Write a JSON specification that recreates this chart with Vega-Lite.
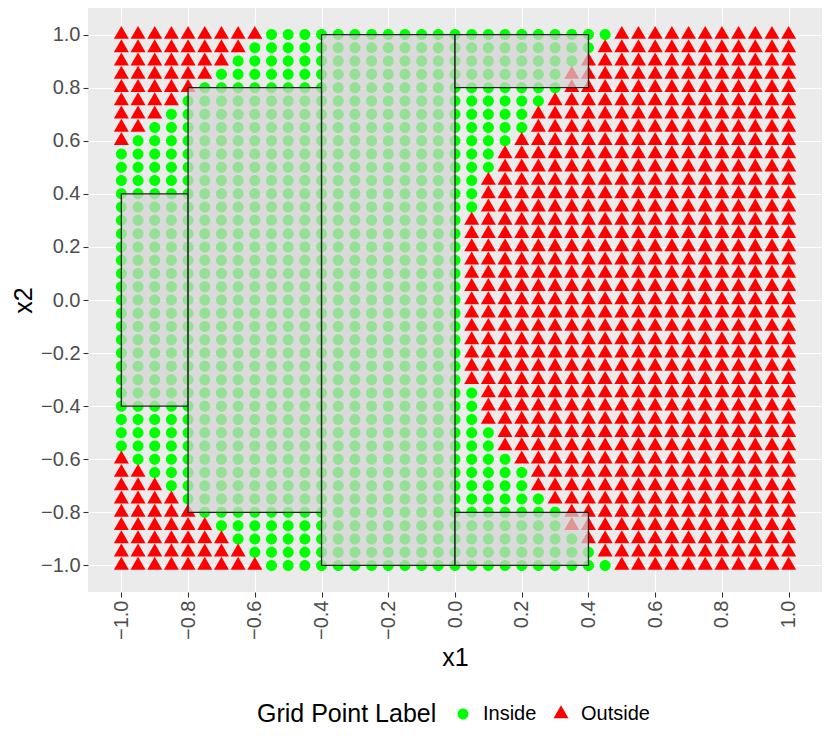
{
"$schema":"https://vega.github.io/schema/vega-lite/v6.json",
"width":734,"height":584,
"autosize":"none",
"padding":{"left":88,"top":8,"right":8,"bottom":154},
"background":"white",
"config":{
 "view":{"fill":"#EBEBEB","stroke":null},
 "font":"Liberation Sans",
 "axis":{"domain":false,"gridColor":"white","tickColor":"#333333","tickWidth":1.1,"tickSize":5,"labelFontSize":20,"labelColor":"#4D4D4D","labelPadding":3,"titleFontSize":25,"titleFontWeight":"normal","titleColor":"black","labelOverlap":false,"labelFlush":false},
 "legend":{"orient":"none","legendX":169,"legendY":696,"direction":"horizontal","titleOrient":"left","titleFontSize":25,"titleFontWeight":"normal","titleColor":"black","titleBaseline":"middle","titleAnchor":"middle","titlePadding":16,"labelFontSize":20,"labelColor":"black","symbolSize":225,"symbolStrokeWidth":0,"labelOffset":10,"columnPadding":14}
},
"layer":[
{
"data":{"values":[
{"x1":-1,"x2":1,"lab":"Outside"},{"x1":-0.95,"x2":1,"lab":"Outside"},{"x1":-0.9,"x2":1,"lab":"Outside"},{"x1":-0.85,"x2":1,"lab":"Outside"},{"x1":-0.8,"x2":1,"lab":"Outside"},{"x1":-0.75,"x2":1,"lab":"Outside"},{"x1":-0.7,"x2":1,"lab":"Outside"},{"x1":-0.65,"x2":1,"lab":"Outside"},{"x1":-0.6,"x2":1,"lab":"Outside"},{"x1":-0.55,"x2":1,"lab":"Inside"},{"x1":-0.5,"x2":1,"lab":"Inside"},{"x1":-0.45,"x2":1,"lab":"Inside"},{"x1":-0.4,"x2":1,"lab":"Inside"},{"x1":-0.35,"x2":1,"lab":"Inside"},{"x1":-0.3,"x2":1,"lab":"Inside"},{"x1":-0.25,"x2":1,"lab":"Inside"},{"x1":-0.2,"x2":1,"lab":"Inside"},{"x1":-0.15,"x2":1,"lab":"Inside"},{"x1":-0.1,"x2":1,"lab":"Inside"},{"x1":-0.05,"x2":1,"lab":"Inside"},{"x1":0,"x2":1,"lab":"Inside"},{"x1":0.05,"x2":1,"lab":"Inside"},{"x1":0.1,"x2":1,"lab":"Inside"},{"x1":0.15,"x2":1,"lab":"Inside"},{"x1":0.2,"x2":1,"lab":"Inside"},{"x1":0.25,"x2":1,"lab":"Inside"},{"x1":0.3,"x2":1,"lab":"Inside"},{"x1":0.35,"x2":1,"lab":"Inside"},{"x1":0.4,"x2":1,"lab":"Inside"},{"x1":0.45,"x2":1,"lab":"Inside"},{"x1":0.5,"x2":1,"lab":"Outside"},{"x1":0.55,"x2":1,"lab":"Outside"},{"x1":0.6,"x2":1,"lab":"Outside"},{"x1":0.65,"x2":1,"lab":"Outside"},{"x1":0.7,"x2":1,"lab":"Outside"},{"x1":0.75,"x2":1,"lab":"Outside"},{"x1":0.8,"x2":1,"lab":"Outside"},{"x1":0.85,"x2":1,"lab":"Outside"},{"x1":0.9,"x2":1,"lab":"Outside"},{"x1":0.95,"x2":1,"lab":"Outside"},{"x1":1,"x2":1,"lab":"Outside"},
{"x1":-1,"x2":0.95,"lab":"Outside"},{"x1":-0.95,"x2":0.95,"lab":"Outside"},{"x1":-0.9,"x2":0.95,"lab":"Outside"},{"x1":-0.85,"x2":0.95,"lab":"Outside"},{"x1":-0.8,"x2":0.95,"lab":"Outside"},{"x1":-0.75,"x2":0.95,"lab":"Outside"},{"x1":-0.7,"x2":0.95,"lab":"Outside"},{"x1":-0.65,"x2":0.95,"lab":"Outside"},{"x1":-0.6,"x2":0.95,"lab":"Inside"},{"x1":-0.55,"x2":0.95,"lab":"Inside"},{"x1":-0.5,"x2":0.95,"lab":"Inside"},{"x1":-0.45,"x2":0.95,"lab":"Inside"},{"x1":-0.4,"x2":0.95,"lab":"Inside"},{"x1":-0.35,"x2":0.95,"lab":"Inside"},{"x1":-0.3,"x2":0.95,"lab":"Inside"},{"x1":-0.25,"x2":0.95,"lab":"Inside"},{"x1":-0.2,"x2":0.95,"lab":"Inside"},{"x1":-0.15,"x2":0.95,"lab":"Inside"},{"x1":-0.1,"x2":0.95,"lab":"Inside"},{"x1":-0.05,"x2":0.95,"lab":"Inside"},{"x1":0,"x2":0.95,"lab":"Inside"},{"x1":0.05,"x2":0.95,"lab":"Inside"},{"x1":0.1,"x2":0.95,"lab":"Inside"},{"x1":0.15,"x2":0.95,"lab":"Inside"},{"x1":0.2,"x2":0.95,"lab":"Inside"},{"x1":0.25,"x2":0.95,"lab":"Inside"},{"x1":0.3,"x2":0.95,"lab":"Inside"},{"x1":0.35,"x2":0.95,"lab":"Inside"},{"x1":0.4,"x2":0.95,"lab":"Inside"},{"x1":0.45,"x2":0.95,"lab":"Outside"},{"x1":0.5,"x2":0.95,"lab":"Outside"},{"x1":0.55,"x2":0.95,"lab":"Outside"},{"x1":0.6,"x2":0.95,"lab":"Outside"},{"x1":0.65,"x2":0.95,"lab":"Outside"},{"x1":0.7,"x2":0.95,"lab":"Outside"},{"x1":0.75,"x2":0.95,"lab":"Outside"},{"x1":0.8,"x2":0.95,"lab":"Outside"},{"x1":0.85,"x2":0.95,"lab":"Outside"},{"x1":0.9,"x2":0.95,"lab":"Outside"},{"x1":0.95,"x2":0.95,"lab":"Outside"},{"x1":1,"x2":0.95,"lab":"Outside"},
{"x1":-1,"x2":0.9,"lab":"Outside"},{"x1":-0.95,"x2":0.9,"lab":"Outside"},{"x1":-0.9,"x2":0.9,"lab":"Outside"},{"x1":-0.85,"x2":0.9,"lab":"Outside"},{"x1":-0.8,"x2":0.9,"lab":"Outside"},{"x1":-0.75,"x2":0.9,"lab":"Outside"},{"x1":-0.7,"x2":0.9,"lab":"Outside"},{"x1":-0.65,"x2":0.9,"lab":"Inside"},{"x1":-0.6,"x2":0.9,"lab":"Inside"},{"x1":-0.55,"x2":0.9,"lab":"Inside"},{"x1":-0.5,"x2":0.9,"lab":"Inside"},{"x1":-0.45,"x2":0.9,"lab":"Inside"},{"x1":-0.4,"x2":0.9,"lab":"Inside"},{"x1":-0.35,"x2":0.9,"lab":"Inside"},{"x1":-0.3,"x2":0.9,"lab":"Inside"},{"x1":-0.25,"x2":0.9,"lab":"Inside"},{"x1":-0.2,"x2":0.9,"lab":"Inside"},{"x1":-0.15,"x2":0.9,"lab":"Inside"},{"x1":-0.1,"x2":0.9,"lab":"Inside"},{"x1":-0.05,"x2":0.9,"lab":"Inside"},{"x1":0,"x2":0.9,"lab":"Inside"},{"x1":0.05,"x2":0.9,"lab":"Inside"},{"x1":0.1,"x2":0.9,"lab":"Inside"},{"x1":0.15,"x2":0.9,"lab":"Inside"},{"x1":0.2,"x2":0.9,"lab":"Inside"},{"x1":0.25,"x2":0.9,"lab":"Inside"},{"x1":0.3,"x2":0.9,"lab":"Inside"},{"x1":0.35,"x2":0.9,"lab":"Inside"},{"x1":0.4,"x2":0.9,"lab":"Outside"},{"x1":0.45,"x2":0.9,"lab":"Outside"},{"x1":0.5,"x2":0.9,"lab":"Outside"},{"x1":0.55,"x2":0.9,"lab":"Outside"},{"x1":0.6,"x2":0.9,"lab":"Outside"},{"x1":0.65,"x2":0.9,"lab":"Outside"},{"x1":0.7,"x2":0.9,"lab":"Outside"},{"x1":0.75,"x2":0.9,"lab":"Outside"},{"x1":0.8,"x2":0.9,"lab":"Outside"},{"x1":0.85,"x2":0.9,"lab":"Outside"},{"x1":0.9,"x2":0.9,"lab":"Outside"},{"x1":0.95,"x2":0.9,"lab":"Outside"},{"x1":1,"x2":0.9,"lab":"Outside"},
{"x1":-1,"x2":0.85,"lab":"Outside"},{"x1":-0.95,"x2":0.85,"lab":"Outside"},{"x1":-0.9,"x2":0.85,"lab":"Outside"},{"x1":-0.85,"x2":0.85,"lab":"Outside"},{"x1":-0.8,"x2":0.85,"lab":"Outside"},{"x1":-0.75,"x2":0.85,"lab":"Outside"},{"x1":-0.7,"x2":0.85,"lab":"Inside"},{"x1":-0.65,"x2":0.85,"lab":"Inside"},{"x1":-0.6,"x2":0.85,"lab":"Inside"},{"x1":-0.55,"x2":0.85,"lab":"Inside"},{"x1":-0.5,"x2":0.85,"lab":"Inside"},{"x1":-0.45,"x2":0.85,"lab":"Inside"},{"x1":-0.4,"x2":0.85,"lab":"Inside"},{"x1":-0.35,"x2":0.85,"lab":"Inside"},{"x1":-0.3,"x2":0.85,"lab":"Inside"},{"x1":-0.25,"x2":0.85,"lab":"Inside"},{"x1":-0.2,"x2":0.85,"lab":"Inside"},{"x1":-0.15,"x2":0.85,"lab":"Inside"},{"x1":-0.1,"x2":0.85,"lab":"Inside"},{"x1":-0.05,"x2":0.85,"lab":"Inside"},{"x1":0,"x2":0.85,"lab":"Inside"},{"x1":0.05,"x2":0.85,"lab":"Inside"},{"x1":0.1,"x2":0.85,"lab":"Inside"},{"x1":0.15,"x2":0.85,"lab":"Inside"},{"x1":0.2,"x2":0.85,"lab":"Inside"},{"x1":0.25,"x2":0.85,"lab":"Inside"},{"x1":0.3,"x2":0.85,"lab":"Inside"},{"x1":0.35,"x2":0.85,"lab":"Outside"},{"x1":0.4,"x2":0.85,"lab":"Outside"},{"x1":0.45,"x2":0.85,"lab":"Outside"},{"x1":0.5,"x2":0.85,"lab":"Outside"},{"x1":0.55,"x2":0.85,"lab":"Outside"},{"x1":0.6,"x2":0.85,"lab":"Outside"},{"x1":0.65,"x2":0.85,"lab":"Outside"},{"x1":0.7,"x2":0.85,"lab":"Outside"},{"x1":0.75,"x2":0.85,"lab":"Outside"},{"x1":0.8,"x2":0.85,"lab":"Outside"},{"x1":0.85,"x2":0.85,"lab":"Outside"},{"x1":0.9,"x2":0.85,"lab":"Outside"},{"x1":0.95,"x2":0.85,"lab":"Outside"},{"x1":1,"x2":0.85,"lab":"Outside"},
{"x1":-1,"x2":0.8,"lab":"Outside"},{"x1":-0.95,"x2":0.8,"lab":"Outside"},{"x1":-0.9,"x2":0.8,"lab":"Outside"},{"x1":-0.85,"x2":0.8,"lab":"Outside"},{"x1":-0.8,"x2":0.8,"lab":"Outside"},{"x1":-0.75,"x2":0.8,"lab":"Inside"},{"x1":-0.7,"x2":0.8,"lab":"Inside"},{"x1":-0.65,"x2":0.8,"lab":"Inside"},{"x1":-0.6,"x2":0.8,"lab":"Inside"},{"x1":-0.55,"x2":0.8,"lab":"Inside"},{"x1":-0.5,"x2":0.8,"lab":"Inside"},{"x1":-0.45,"x2":0.8,"lab":"Inside"},{"x1":-0.4,"x2":0.8,"lab":"Inside"},{"x1":-0.35,"x2":0.8,"lab":"Inside"},{"x1":-0.3,"x2":0.8,"lab":"Inside"},{"x1":-0.25,"x2":0.8,"lab":"Inside"},{"x1":-0.2,"x2":0.8,"lab":"Inside"},{"x1":-0.15,"x2":0.8,"lab":"Inside"},{"x1":-0.1,"x2":0.8,"lab":"Inside"},{"x1":-0.05,"x2":0.8,"lab":"Inside"},{"x1":0,"x2":0.8,"lab":"Inside"},{"x1":0.05,"x2":0.8,"lab":"Inside"},{"x1":0.1,"x2":0.8,"lab":"Inside"},{"x1":0.15,"x2":0.8,"lab":"Inside"},{"x1":0.2,"x2":0.8,"lab":"Inside"},{"x1":0.25,"x2":0.8,"lab":"Inside"},{"x1":0.3,"x2":0.8,"lab":"Inside"},{"x1":0.35,"x2":0.8,"lab":"Outside"},{"x1":0.4,"x2":0.8,"lab":"Outside"},{"x1":0.45,"x2":0.8,"lab":"Outside"},{"x1":0.5,"x2":0.8,"lab":"Outside"},{"x1":0.55,"x2":0.8,"lab":"Outside"},{"x1":0.6,"x2":0.8,"lab":"Outside"},{"x1":0.65,"x2":0.8,"lab":"Outside"},{"x1":0.7,"x2":0.8,"lab":"Outside"},{"x1":0.75,"x2":0.8,"lab":"Outside"},{"x1":0.8,"x2":0.8,"lab":"Outside"},{"x1":0.85,"x2":0.8,"lab":"Outside"},{"x1":0.9,"x2":0.8,"lab":"Outside"},{"x1":0.95,"x2":0.8,"lab":"Outside"},{"x1":1,"x2":0.8,"lab":"Outside"},
{"x1":-1,"x2":0.75,"lab":"Outside"},{"x1":-0.95,"x2":0.75,"lab":"Outside"},{"x1":-0.9,"x2":0.75,"lab":"Outside"},{"x1":-0.85,"x2":0.75,"lab":"Outside"},{"x1":-0.8,"x2":0.75,"lab":"Inside"},{"x1":-0.75,"x2":0.75,"lab":"Inside"},{"x1":-0.7,"x2":0.75,"lab":"Inside"},{"x1":-0.65,"x2":0.75,"lab":"Inside"},{"x1":-0.6,"x2":0.75,"lab":"Inside"},{"x1":-0.55,"x2":0.75,"lab":"Inside"},{"x1":-0.5,"x2":0.75,"lab":"Inside"},{"x1":-0.45,"x2":0.75,"lab":"Inside"},{"x1":-0.4,"x2":0.75,"lab":"Inside"},{"x1":-0.35,"x2":0.75,"lab":"Inside"},{"x1":-0.3,"x2":0.75,"lab":"Inside"},{"x1":-0.25,"x2":0.75,"lab":"Inside"},{"x1":-0.2,"x2":0.75,"lab":"Inside"},{"x1":-0.15,"x2":0.75,"lab":"Inside"},{"x1":-0.1,"x2":0.75,"lab":"Inside"},{"x1":-0.05,"x2":0.75,"lab":"Inside"},{"x1":0,"x2":0.75,"lab":"Inside"},{"x1":0.05,"x2":0.75,"lab":"Inside"},{"x1":0.1,"x2":0.75,"lab":"Inside"},{"x1":0.15,"x2":0.75,"lab":"Inside"},{"x1":0.2,"x2":0.75,"lab":"Inside"},{"x1":0.25,"x2":0.75,"lab":"Inside"},{"x1":0.3,"x2":0.75,"lab":"Outside"},{"x1":0.35,"x2":0.75,"lab":"Outside"},{"x1":0.4,"x2":0.75,"lab":"Outside"},{"x1":0.45,"x2":0.75,"lab":"Outside"},{"x1":0.5,"x2":0.75,"lab":"Outside"},{"x1":0.55,"x2":0.75,"lab":"Outside"},{"x1":0.6,"x2":0.75,"lab":"Outside"},{"x1":0.65,"x2":0.75,"lab":"Outside"},{"x1":0.7,"x2":0.75,"lab":"Outside"},{"x1":0.75,"x2":0.75,"lab":"Outside"},{"x1":0.8,"x2":0.75,"lab":"Outside"},{"x1":0.85,"x2":0.75,"lab":"Outside"},{"x1":0.9,"x2":0.75,"lab":"Outside"},{"x1":0.95,"x2":0.75,"lab":"Outside"},{"x1":1,"x2":0.75,"lab":"Outside"},
{"x1":-1,"x2":0.7,"lab":"Outside"},{"x1":-0.95,"x2":0.7,"lab":"Outside"},{"x1":-0.9,"x2":0.7,"lab":"Outside"},{"x1":-0.85,"x2":0.7,"lab":"Inside"},{"x1":-0.8,"x2":0.7,"lab":"Inside"},{"x1":-0.75,"x2":0.7,"lab":"Inside"},{"x1":-0.7,"x2":0.7,"lab":"Inside"},{"x1":-0.65,"x2":0.7,"lab":"Inside"},{"x1":-0.6,"x2":0.7,"lab":"Inside"},{"x1":-0.55,"x2":0.7,"lab":"Inside"},{"x1":-0.5,"x2":0.7,"lab":"Inside"},{"x1":-0.45,"x2":0.7,"lab":"Inside"},{"x1":-0.4,"x2":0.7,"lab":"Inside"},{"x1":-0.35,"x2":0.7,"lab":"Inside"},{"x1":-0.3,"x2":0.7,"lab":"Inside"},{"x1":-0.25,"x2":0.7,"lab":"Inside"},{"x1":-0.2,"x2":0.7,"lab":"Inside"},{"x1":-0.15,"x2":0.7,"lab":"Inside"},{"x1":-0.1,"x2":0.7,"lab":"Inside"},{"x1":-0.05,"x2":0.7,"lab":"Inside"},{"x1":0,"x2":0.7,"lab":"Inside"},{"x1":0.05,"x2":0.7,"lab":"Inside"},{"x1":0.1,"x2":0.7,"lab":"Inside"},{"x1":0.15,"x2":0.7,"lab":"Inside"},{"x1":0.2,"x2":0.7,"lab":"Inside"},{"x1":0.25,"x2":0.7,"lab":"Outside"},{"x1":0.3,"x2":0.7,"lab":"Outside"},{"x1":0.35,"x2":0.7,"lab":"Outside"},{"x1":0.4,"x2":0.7,"lab":"Outside"},{"x1":0.45,"x2":0.7,"lab":"Outside"},{"x1":0.5,"x2":0.7,"lab":"Outside"},{"x1":0.55,"x2":0.7,"lab":"Outside"},{"x1":0.6,"x2":0.7,"lab":"Outside"},{"x1":0.65,"x2":0.7,"lab":"Outside"},{"x1":0.7,"x2":0.7,"lab":"Outside"},{"x1":0.75,"x2":0.7,"lab":"Outside"},{"x1":0.8,"x2":0.7,"lab":"Outside"},{"x1":0.85,"x2":0.7,"lab":"Outside"},{"x1":0.9,"x2":0.7,"lab":"Outside"},{"x1":0.95,"x2":0.7,"lab":"Outside"},{"x1":1,"x2":0.7,"lab":"Outside"},
{"x1":-1,"x2":0.65,"lab":"Outside"},{"x1":-0.95,"x2":0.65,"lab":"Outside"},{"x1":-0.9,"x2":0.65,"lab":"Inside"},{"x1":-0.85,"x2":0.65,"lab":"Inside"},{"x1":-0.8,"x2":0.65,"lab":"Inside"},{"x1":-0.75,"x2":0.65,"lab":"Inside"},{"x1":-0.7,"x2":0.65,"lab":"Inside"},{"x1":-0.65,"x2":0.65,"lab":"Inside"},{"x1":-0.6,"x2":0.65,"lab":"Inside"},{"x1":-0.55,"x2":0.65,"lab":"Inside"},{"x1":-0.5,"x2":0.65,"lab":"Inside"},{"x1":-0.45,"x2":0.65,"lab":"Inside"},{"x1":-0.4,"x2":0.65,"lab":"Inside"},{"x1":-0.35,"x2":0.65,"lab":"Inside"},{"x1":-0.3,"x2":0.65,"lab":"Inside"},{"x1":-0.25,"x2":0.65,"lab":"Inside"},{"x1":-0.2,"x2":0.65,"lab":"Inside"},{"x1":-0.15,"x2":0.65,"lab":"Inside"},{"x1":-0.1,"x2":0.65,"lab":"Inside"},{"x1":-0.05,"x2":0.65,"lab":"Inside"},{"x1":0,"x2":0.65,"lab":"Inside"},{"x1":0.05,"x2":0.65,"lab":"Inside"},{"x1":0.1,"x2":0.65,"lab":"Inside"},{"x1":0.15,"x2":0.65,"lab":"Inside"},{"x1":0.2,"x2":0.65,"lab":"Inside"},{"x1":0.25,"x2":0.65,"lab":"Outside"},{"x1":0.3,"x2":0.65,"lab":"Outside"},{"x1":0.35,"x2":0.65,"lab":"Outside"},{"x1":0.4,"x2":0.65,"lab":"Outside"},{"x1":0.45,"x2":0.65,"lab":"Outside"},{"x1":0.5,"x2":0.65,"lab":"Outside"},{"x1":0.55,"x2":0.65,"lab":"Outside"},{"x1":0.6,"x2":0.65,"lab":"Outside"},{"x1":0.65,"x2":0.65,"lab":"Outside"},{"x1":0.7,"x2":0.65,"lab":"Outside"},{"x1":0.75,"x2":0.65,"lab":"Outside"},{"x1":0.8,"x2":0.65,"lab":"Outside"},{"x1":0.85,"x2":0.65,"lab":"Outside"},{"x1":0.9,"x2":0.65,"lab":"Outside"},{"x1":0.95,"x2":0.65,"lab":"Outside"},{"x1":1,"x2":0.65,"lab":"Outside"},
{"x1":-1,"x2":0.6,"lab":"Outside"},{"x1":-0.95,"x2":0.6,"lab":"Inside"},{"x1":-0.9,"x2":0.6,"lab":"Inside"},{"x1":-0.85,"x2":0.6,"lab":"Inside"},{"x1":-0.8,"x2":0.6,"lab":"Inside"},{"x1":-0.75,"x2":0.6,"lab":"Inside"},{"x1":-0.7,"x2":0.6,"lab":"Inside"},{"x1":-0.65,"x2":0.6,"lab":"Inside"},{"x1":-0.6,"x2":0.6,"lab":"Inside"},{"x1":-0.55,"x2":0.6,"lab":"Inside"},{"x1":-0.5,"x2":0.6,"lab":"Inside"},{"x1":-0.45,"x2":0.6,"lab":"Inside"},{"x1":-0.4,"x2":0.6,"lab":"Inside"},{"x1":-0.35,"x2":0.6,"lab":"Inside"},{"x1":-0.3,"x2":0.6,"lab":"Inside"},{"x1":-0.25,"x2":0.6,"lab":"Inside"},{"x1":-0.2,"x2":0.6,"lab":"Inside"},{"x1":-0.15,"x2":0.6,"lab":"Inside"},{"x1":-0.1,"x2":0.6,"lab":"Inside"},{"x1":-0.05,"x2":0.6,"lab":"Inside"},{"x1":0,"x2":0.6,"lab":"Inside"},{"x1":0.05,"x2":0.6,"lab":"Inside"},{"x1":0.1,"x2":0.6,"lab":"Inside"},{"x1":0.15,"x2":0.6,"lab":"Inside"},{"x1":0.2,"x2":0.6,"lab":"Outside"},{"x1":0.25,"x2":0.6,"lab":"Outside"},{"x1":0.3,"x2":0.6,"lab":"Outside"},{"x1":0.35,"x2":0.6,"lab":"Outside"},{"x1":0.4,"x2":0.6,"lab":"Outside"},{"x1":0.45,"x2":0.6,"lab":"Outside"},{"x1":0.5,"x2":0.6,"lab":"Outside"},{"x1":0.55,"x2":0.6,"lab":"Outside"},{"x1":0.6,"x2":0.6,"lab":"Outside"},{"x1":0.65,"x2":0.6,"lab":"Outside"},{"x1":0.7,"x2":0.6,"lab":"Outside"},{"x1":0.75,"x2":0.6,"lab":"Outside"},{"x1":0.8,"x2":0.6,"lab":"Outside"},{"x1":0.85,"x2":0.6,"lab":"Outside"},{"x1":0.9,"x2":0.6,"lab":"Outside"},{"x1":0.95,"x2":0.6,"lab":"Outside"},{"x1":1,"x2":0.6,"lab":"Outside"},
{"x1":-1,"x2":0.55,"lab":"Inside"},{"x1":-0.95,"x2":0.55,"lab":"Inside"},{"x1":-0.9,"x2":0.55,"lab":"Inside"},{"x1":-0.85,"x2":0.55,"lab":"Inside"},{"x1":-0.8,"x2":0.55,"lab":"Inside"},{"x1":-0.75,"x2":0.55,"lab":"Inside"},{"x1":-0.7,"x2":0.55,"lab":"Inside"},{"x1":-0.65,"x2":0.55,"lab":"Inside"},{"x1":-0.6,"x2":0.55,"lab":"Inside"},{"x1":-0.55,"x2":0.55,"lab":"Inside"},{"x1":-0.5,"x2":0.55,"lab":"Inside"},{"x1":-0.45,"x2":0.55,"lab":"Inside"},{"x1":-0.4,"x2":0.55,"lab":"Inside"},{"x1":-0.35,"x2":0.55,"lab":"Inside"},{"x1":-0.3,"x2":0.55,"lab":"Inside"},{"x1":-0.25,"x2":0.55,"lab":"Inside"},{"x1":-0.2,"x2":0.55,"lab":"Inside"},{"x1":-0.15,"x2":0.55,"lab":"Inside"},{"x1":-0.1,"x2":0.55,"lab":"Inside"},{"x1":-0.05,"x2":0.55,"lab":"Inside"},{"x1":0,"x2":0.55,"lab":"Inside"},{"x1":0.05,"x2":0.55,"lab":"Inside"},{"x1":0.1,"x2":0.55,"lab":"Inside"},{"x1":0.15,"x2":0.55,"lab":"Outside"},{"x1":0.2,"x2":0.55,"lab":"Outside"},{"x1":0.25,"x2":0.55,"lab":"Outside"},{"x1":0.3,"x2":0.55,"lab":"Outside"},{"x1":0.35,"x2":0.55,"lab":"Outside"},{"x1":0.4,"x2":0.55,"lab":"Outside"},{"x1":0.45,"x2":0.55,"lab":"Outside"},{"x1":0.5,"x2":0.55,"lab":"Outside"},{"x1":0.55,"x2":0.55,"lab":"Outside"},{"x1":0.6,"x2":0.55,"lab":"Outside"},{"x1":0.65,"x2":0.55,"lab":"Outside"},{"x1":0.7,"x2":0.55,"lab":"Outside"},{"x1":0.75,"x2":0.55,"lab":"Outside"},{"x1":0.8,"x2":0.55,"lab":"Outside"},{"x1":0.85,"x2":0.55,"lab":"Outside"},{"x1":0.9,"x2":0.55,"lab":"Outside"},{"x1":0.95,"x2":0.55,"lab":"Outside"},{"x1":1,"x2":0.55,"lab":"Outside"},
{"x1":-1,"x2":0.5,"lab":"Inside"},{"x1":-0.95,"x2":0.5,"lab":"Inside"},{"x1":-0.9,"x2":0.5,"lab":"Inside"},{"x1":-0.85,"x2":0.5,"lab":"Inside"},{"x1":-0.8,"x2":0.5,"lab":"Inside"},{"x1":-0.75,"x2":0.5,"lab":"Inside"},{"x1":-0.7,"x2":0.5,"lab":"Inside"},{"x1":-0.65,"x2":0.5,"lab":"Inside"},{"x1":-0.6,"x2":0.5,"lab":"Inside"},{"x1":-0.55,"x2":0.5,"lab":"Inside"},{"x1":-0.5,"x2":0.5,"lab":"Inside"},{"x1":-0.45,"x2":0.5,"lab":"Inside"},{"x1":-0.4,"x2":0.5,"lab":"Inside"},{"x1":-0.35,"x2":0.5,"lab":"Inside"},{"x1":-0.3,"x2":0.5,"lab":"Inside"},{"x1":-0.25,"x2":0.5,"lab":"Inside"},{"x1":-0.2,"x2":0.5,"lab":"Inside"},{"x1":-0.15,"x2":0.5,"lab":"Inside"},{"x1":-0.1,"x2":0.5,"lab":"Inside"},{"x1":-0.05,"x2":0.5,"lab":"Inside"},{"x1":0,"x2":0.5,"lab":"Inside"},{"x1":0.05,"x2":0.5,"lab":"Inside"},{"x1":0.1,"x2":0.5,"lab":"Inside"},{"x1":0.15,"x2":0.5,"lab":"Outside"},{"x1":0.2,"x2":0.5,"lab":"Outside"},{"x1":0.25,"x2":0.5,"lab":"Outside"},{"x1":0.3,"x2":0.5,"lab":"Outside"},{"x1":0.35,"x2":0.5,"lab":"Outside"},{"x1":0.4,"x2":0.5,"lab":"Outside"},{"x1":0.45,"x2":0.5,"lab":"Outside"},{"x1":0.5,"x2":0.5,"lab":"Outside"},{"x1":0.55,"x2":0.5,"lab":"Outside"},{"x1":0.6,"x2":0.5,"lab":"Outside"},{"x1":0.65,"x2":0.5,"lab":"Outside"},{"x1":0.7,"x2":0.5,"lab":"Outside"},{"x1":0.75,"x2":0.5,"lab":"Outside"},{"x1":0.8,"x2":0.5,"lab":"Outside"},{"x1":0.85,"x2":0.5,"lab":"Outside"},{"x1":0.9,"x2":0.5,"lab":"Outside"},{"x1":0.95,"x2":0.5,"lab":"Outside"},{"x1":1,"x2":0.5,"lab":"Outside"},
{"x1":-1,"x2":0.45,"lab":"Inside"},{"x1":-0.95,"x2":0.45,"lab":"Inside"},{"x1":-0.9,"x2":0.45,"lab":"Inside"},{"x1":-0.85,"x2":0.45,"lab":"Inside"},{"x1":-0.8,"x2":0.45,"lab":"Inside"},{"x1":-0.75,"x2":0.45,"lab":"Inside"},{"x1":-0.7,"x2":0.45,"lab":"Inside"},{"x1":-0.65,"x2":0.45,"lab":"Inside"},{"x1":-0.6,"x2":0.45,"lab":"Inside"},{"x1":-0.55,"x2":0.45,"lab":"Inside"},{"x1":-0.5,"x2":0.45,"lab":"Inside"},{"x1":-0.45,"x2":0.45,"lab":"Inside"},{"x1":-0.4,"x2":0.45,"lab":"Inside"},{"x1":-0.35,"x2":0.45,"lab":"Inside"},{"x1":-0.3,"x2":0.45,"lab":"Inside"},{"x1":-0.25,"x2":0.45,"lab":"Inside"},{"x1":-0.2,"x2":0.45,"lab":"Inside"},{"x1":-0.15,"x2":0.45,"lab":"Inside"},{"x1":-0.1,"x2":0.45,"lab":"Inside"},{"x1":-0.05,"x2":0.45,"lab":"Inside"},{"x1":0,"x2":0.45,"lab":"Inside"},{"x1":0.05,"x2":0.45,"lab":"Inside"},{"x1":0.1,"x2":0.45,"lab":"Outside"},{"x1":0.15,"x2":0.45,"lab":"Outside"},{"x1":0.2,"x2":0.45,"lab":"Outside"},{"x1":0.25,"x2":0.45,"lab":"Outside"},{"x1":0.3,"x2":0.45,"lab":"Outside"},{"x1":0.35,"x2":0.45,"lab":"Outside"},{"x1":0.4,"x2":0.45,"lab":"Outside"},{"x1":0.45,"x2":0.45,"lab":"Outside"},{"x1":0.5,"x2":0.45,"lab":"Outside"},{"x1":0.55,"x2":0.45,"lab":"Outside"},{"x1":0.6,"x2":0.45,"lab":"Outside"},{"x1":0.65,"x2":0.45,"lab":"Outside"},{"x1":0.7,"x2":0.45,"lab":"Outside"},{"x1":0.75,"x2":0.45,"lab":"Outside"},{"x1":0.8,"x2":0.45,"lab":"Outside"},{"x1":0.85,"x2":0.45,"lab":"Outside"},{"x1":0.9,"x2":0.45,"lab":"Outside"},{"x1":0.95,"x2":0.45,"lab":"Outside"},{"x1":1,"x2":0.45,"lab":"Outside"},
{"x1":-1,"x2":0.4,"lab":"Inside"},{"x1":-0.95,"x2":0.4,"lab":"Inside"},{"x1":-0.9,"x2":0.4,"lab":"Inside"},{"x1":-0.85,"x2":0.4,"lab":"Inside"},{"x1":-0.8,"x2":0.4,"lab":"Inside"},{"x1":-0.75,"x2":0.4,"lab":"Inside"},{"x1":-0.7,"x2":0.4,"lab":"Inside"},{"x1":-0.65,"x2":0.4,"lab":"Inside"},{"x1":-0.6,"x2":0.4,"lab":"Inside"},{"x1":-0.55,"x2":0.4,"lab":"Inside"},{"x1":-0.5,"x2":0.4,"lab":"Inside"},{"x1":-0.45,"x2":0.4,"lab":"Inside"},{"x1":-0.4,"x2":0.4,"lab":"Inside"},{"x1":-0.35,"x2":0.4,"lab":"Inside"},{"x1":-0.3,"x2":0.4,"lab":"Inside"},{"x1":-0.25,"x2":0.4,"lab":"Inside"},{"x1":-0.2,"x2":0.4,"lab":"Inside"},{"x1":-0.15,"x2":0.4,"lab":"Inside"},{"x1":-0.1,"x2":0.4,"lab":"Inside"},{"x1":-0.05,"x2":0.4,"lab":"Inside"},{"x1":0,"x2":0.4,"lab":"Inside"},{"x1":0.05,"x2":0.4,"lab":"Inside"},{"x1":0.1,"x2":0.4,"lab":"Outside"},{"x1":0.15,"x2":0.4,"lab":"Outside"},{"x1":0.2,"x2":0.4,"lab":"Outside"},{"x1":0.25,"x2":0.4,"lab":"Outside"},{"x1":0.3,"x2":0.4,"lab":"Outside"},{"x1":0.35,"x2":0.4,"lab":"Outside"},{"x1":0.4,"x2":0.4,"lab":"Outside"},{"x1":0.45,"x2":0.4,"lab":"Outside"},{"x1":0.5,"x2":0.4,"lab":"Outside"},{"x1":0.55,"x2":0.4,"lab":"Outside"},{"x1":0.6,"x2":0.4,"lab":"Outside"},{"x1":0.65,"x2":0.4,"lab":"Outside"},{"x1":0.7,"x2":0.4,"lab":"Outside"},{"x1":0.75,"x2":0.4,"lab":"Outside"},{"x1":0.8,"x2":0.4,"lab":"Outside"},{"x1":0.85,"x2":0.4,"lab":"Outside"},{"x1":0.9,"x2":0.4,"lab":"Outside"},{"x1":0.95,"x2":0.4,"lab":"Outside"},{"x1":1,"x2":0.4,"lab":"Outside"},
{"x1":-1,"x2":0.35,"lab":"Inside"},{"x1":-0.95,"x2":0.35,"lab":"Inside"},{"x1":-0.9,"x2":0.35,"lab":"Inside"},{"x1":-0.85,"x2":0.35,"lab":"Inside"},{"x1":-0.8,"x2":0.35,"lab":"Inside"},{"x1":-0.75,"x2":0.35,"lab":"Inside"},{"x1":-0.7,"x2":0.35,"lab":"Inside"},{"x1":-0.65,"x2":0.35,"lab":"Inside"},{"x1":-0.6,"x2":0.35,"lab":"Inside"},{"x1":-0.55,"x2":0.35,"lab":"Inside"},{"x1":-0.5,"x2":0.35,"lab":"Inside"},{"x1":-0.45,"x2":0.35,"lab":"Inside"},{"x1":-0.4,"x2":0.35,"lab":"Inside"},{"x1":-0.35,"x2":0.35,"lab":"Inside"},{"x1":-0.3,"x2":0.35,"lab":"Inside"},{"x1":-0.25,"x2":0.35,"lab":"Inside"},{"x1":-0.2,"x2":0.35,"lab":"Inside"},{"x1":-0.15,"x2":0.35,"lab":"Inside"},{"x1":-0.1,"x2":0.35,"lab":"Inside"},{"x1":-0.05,"x2":0.35,"lab":"Inside"},{"x1":0,"x2":0.35,"lab":"Inside"},{"x1":0.05,"x2":0.35,"lab":"Inside"},{"x1":0.1,"x2":0.35,"lab":"Outside"},{"x1":0.15,"x2":0.35,"lab":"Outside"},{"x1":0.2,"x2":0.35,"lab":"Outside"},{"x1":0.25,"x2":0.35,"lab":"Outside"},{"x1":0.3,"x2":0.35,"lab":"Outside"},{"x1":0.35,"x2":0.35,"lab":"Outside"},{"x1":0.4,"x2":0.35,"lab":"Outside"},{"x1":0.45,"x2":0.35,"lab":"Outside"},{"x1":0.5,"x2":0.35,"lab":"Outside"},{"x1":0.55,"x2":0.35,"lab":"Outside"},{"x1":0.6,"x2":0.35,"lab":"Outside"},{"x1":0.65,"x2":0.35,"lab":"Outside"},{"x1":0.7,"x2":0.35,"lab":"Outside"},{"x1":0.75,"x2":0.35,"lab":"Outside"},{"x1":0.8,"x2":0.35,"lab":"Outside"},{"x1":0.85,"x2":0.35,"lab":"Outside"},{"x1":0.9,"x2":0.35,"lab":"Outside"},{"x1":0.95,"x2":0.35,"lab":"Outside"},{"x1":1,"x2":0.35,"lab":"Outside"},
{"x1":-1,"x2":0.3,"lab":"Inside"},{"x1":-0.95,"x2":0.3,"lab":"Inside"},{"x1":-0.9,"x2":0.3,"lab":"Inside"},{"x1":-0.85,"x2":0.3,"lab":"Inside"},{"x1":-0.8,"x2":0.3,"lab":"Inside"},{"x1":-0.75,"x2":0.3,"lab":"Inside"},{"x1":-0.7,"x2":0.3,"lab":"Inside"},{"x1":-0.65,"x2":0.3,"lab":"Inside"},{"x1":-0.6,"x2":0.3,"lab":"Inside"},{"x1":-0.55,"x2":0.3,"lab":"Inside"},{"x1":-0.5,"x2":0.3,"lab":"Inside"},{"x1":-0.45,"x2":0.3,"lab":"Inside"},{"x1":-0.4,"x2":0.3,"lab":"Inside"},{"x1":-0.35,"x2":0.3,"lab":"Inside"},{"x1":-0.3,"x2":0.3,"lab":"Inside"},{"x1":-0.25,"x2":0.3,"lab":"Inside"},{"x1":-0.2,"x2":0.3,"lab":"Inside"},{"x1":-0.15,"x2":0.3,"lab":"Inside"},{"x1":-0.1,"x2":0.3,"lab":"Inside"},{"x1":-0.05,"x2":0.3,"lab":"Inside"},{"x1":0,"x2":0.3,"lab":"Inside"},{"x1":0.05,"x2":0.3,"lab":"Outside"},{"x1":0.1,"x2":0.3,"lab":"Outside"},{"x1":0.15,"x2":0.3,"lab":"Outside"},{"x1":0.2,"x2":0.3,"lab":"Outside"},{"x1":0.25,"x2":0.3,"lab":"Outside"},{"x1":0.3,"x2":0.3,"lab":"Outside"},{"x1":0.35,"x2":0.3,"lab":"Outside"},{"x1":0.4,"x2":0.3,"lab":"Outside"},{"x1":0.45,"x2":0.3,"lab":"Outside"},{"x1":0.5,"x2":0.3,"lab":"Outside"},{"x1":0.55,"x2":0.3,"lab":"Outside"},{"x1":0.6,"x2":0.3,"lab":"Outside"},{"x1":0.65,"x2":0.3,"lab":"Outside"},{"x1":0.7,"x2":0.3,"lab":"Outside"},{"x1":0.75,"x2":0.3,"lab":"Outside"},{"x1":0.8,"x2":0.3,"lab":"Outside"},{"x1":0.85,"x2":0.3,"lab":"Outside"},{"x1":0.9,"x2":0.3,"lab":"Outside"},{"x1":0.95,"x2":0.3,"lab":"Outside"},{"x1":1,"x2":0.3,"lab":"Outside"},
{"x1":-1,"x2":0.25,"lab":"Inside"},{"x1":-0.95,"x2":0.25,"lab":"Inside"},{"x1":-0.9,"x2":0.25,"lab":"Inside"},{"x1":-0.85,"x2":0.25,"lab":"Inside"},{"x1":-0.8,"x2":0.25,"lab":"Inside"},{"x1":-0.75,"x2":0.25,"lab":"Inside"},{"x1":-0.7,"x2":0.25,"lab":"Inside"},{"x1":-0.65,"x2":0.25,"lab":"Inside"},{"x1":-0.6,"x2":0.25,"lab":"Inside"},{"x1":-0.55,"x2":0.25,"lab":"Inside"},{"x1":-0.5,"x2":0.25,"lab":"Inside"},{"x1":-0.45,"x2":0.25,"lab":"Inside"},{"x1":-0.4,"x2":0.25,"lab":"Inside"},{"x1":-0.35,"x2":0.25,"lab":"Inside"},{"x1":-0.3,"x2":0.25,"lab":"Inside"},{"x1":-0.25,"x2":0.25,"lab":"Inside"},{"x1":-0.2,"x2":0.25,"lab":"Inside"},{"x1":-0.15,"x2":0.25,"lab":"Inside"},{"x1":-0.1,"x2":0.25,"lab":"Inside"},{"x1":-0.05,"x2":0.25,"lab":"Inside"},{"x1":0,"x2":0.25,"lab":"Inside"},{"x1":0.05,"x2":0.25,"lab":"Outside"},{"x1":0.1,"x2":0.25,"lab":"Outside"},{"x1":0.15,"x2":0.25,"lab":"Outside"},{"x1":0.2,"x2":0.25,"lab":"Outside"},{"x1":0.25,"x2":0.25,"lab":"Outside"},{"x1":0.3,"x2":0.25,"lab":"Outside"},{"x1":0.35,"x2":0.25,"lab":"Outside"},{"x1":0.4,"x2":0.25,"lab":"Outside"},{"x1":0.45,"x2":0.25,"lab":"Outside"},{"x1":0.5,"x2":0.25,"lab":"Outside"},{"x1":0.55,"x2":0.25,"lab":"Outside"},{"x1":0.6,"x2":0.25,"lab":"Outside"},{"x1":0.65,"x2":0.25,"lab":"Outside"},{"x1":0.7,"x2":0.25,"lab":"Outside"},{"x1":0.75,"x2":0.25,"lab":"Outside"},{"x1":0.8,"x2":0.25,"lab":"Outside"},{"x1":0.85,"x2":0.25,"lab":"Outside"},{"x1":0.9,"x2":0.25,"lab":"Outside"},{"x1":0.95,"x2":0.25,"lab":"Outside"},{"x1":1,"x2":0.25,"lab":"Outside"},
{"x1":-1,"x2":0.2,"lab":"Inside"},{"x1":-0.95,"x2":0.2,"lab":"Inside"},{"x1":-0.9,"x2":0.2,"lab":"Inside"},{"x1":-0.85,"x2":0.2,"lab":"Inside"},{"x1":-0.8,"x2":0.2,"lab":"Inside"},{"x1":-0.75,"x2":0.2,"lab":"Inside"},{"x1":-0.7,"x2":0.2,"lab":"Inside"},{"x1":-0.65,"x2":0.2,"lab":"Inside"},{"x1":-0.6,"x2":0.2,"lab":"Inside"},{"x1":-0.55,"x2":0.2,"lab":"Inside"},{"x1":-0.5,"x2":0.2,"lab":"Inside"},{"x1":-0.45,"x2":0.2,"lab":"Inside"},{"x1":-0.4,"x2":0.2,"lab":"Inside"},{"x1":-0.35,"x2":0.2,"lab":"Inside"},{"x1":-0.3,"x2":0.2,"lab":"Inside"},{"x1":-0.25,"x2":0.2,"lab":"Inside"},{"x1":-0.2,"x2":0.2,"lab":"Inside"},{"x1":-0.15,"x2":0.2,"lab":"Inside"},{"x1":-0.1,"x2":0.2,"lab":"Inside"},{"x1":-0.05,"x2":0.2,"lab":"Inside"},{"x1":0,"x2":0.2,"lab":"Inside"},{"x1":0.05,"x2":0.2,"lab":"Outside"},{"x1":0.1,"x2":0.2,"lab":"Outside"},{"x1":0.15,"x2":0.2,"lab":"Outside"},{"x1":0.2,"x2":0.2,"lab":"Outside"},{"x1":0.25,"x2":0.2,"lab":"Outside"},{"x1":0.3,"x2":0.2,"lab":"Outside"},{"x1":0.35,"x2":0.2,"lab":"Outside"},{"x1":0.4,"x2":0.2,"lab":"Outside"},{"x1":0.45,"x2":0.2,"lab":"Outside"},{"x1":0.5,"x2":0.2,"lab":"Outside"},{"x1":0.55,"x2":0.2,"lab":"Outside"},{"x1":0.6,"x2":0.2,"lab":"Outside"},{"x1":0.65,"x2":0.2,"lab":"Outside"},{"x1":0.7,"x2":0.2,"lab":"Outside"},{"x1":0.75,"x2":0.2,"lab":"Outside"},{"x1":0.8,"x2":0.2,"lab":"Outside"},{"x1":0.85,"x2":0.2,"lab":"Outside"},{"x1":0.9,"x2":0.2,"lab":"Outside"},{"x1":0.95,"x2":0.2,"lab":"Outside"},{"x1":1,"x2":0.2,"lab":"Outside"},
{"x1":-1,"x2":0.15,"lab":"Inside"},{"x1":-0.95,"x2":0.15,"lab":"Inside"},{"x1":-0.9,"x2":0.15,"lab":"Inside"},{"x1":-0.85,"x2":0.15,"lab":"Inside"},{"x1":-0.8,"x2":0.15,"lab":"Inside"},{"x1":-0.75,"x2":0.15,"lab":"Inside"},{"x1":-0.7,"x2":0.15,"lab":"Inside"},{"x1":-0.65,"x2":0.15,"lab":"Inside"},{"x1":-0.6,"x2":0.15,"lab":"Inside"},{"x1":-0.55,"x2":0.15,"lab":"Inside"},{"x1":-0.5,"x2":0.15,"lab":"Inside"},{"x1":-0.45,"x2":0.15,"lab":"Inside"},{"x1":-0.4,"x2":0.15,"lab":"Inside"},{"x1":-0.35,"x2":0.15,"lab":"Inside"},{"x1":-0.3,"x2":0.15,"lab":"Inside"},{"x1":-0.25,"x2":0.15,"lab":"Inside"},{"x1":-0.2,"x2":0.15,"lab":"Inside"},{"x1":-0.15,"x2":0.15,"lab":"Inside"},{"x1":-0.1,"x2":0.15,"lab":"Inside"},{"x1":-0.05,"x2":0.15,"lab":"Inside"},{"x1":0,"x2":0.15,"lab":"Inside"},{"x1":0.05,"x2":0.15,"lab":"Outside"},{"x1":0.1,"x2":0.15,"lab":"Outside"},{"x1":0.15,"x2":0.15,"lab":"Outside"},{"x1":0.2,"x2":0.15,"lab":"Outside"},{"x1":0.25,"x2":0.15,"lab":"Outside"},{"x1":0.3,"x2":0.15,"lab":"Outside"},{"x1":0.35,"x2":0.15,"lab":"Outside"},{"x1":0.4,"x2":0.15,"lab":"Outside"},{"x1":0.45,"x2":0.15,"lab":"Outside"},{"x1":0.5,"x2":0.15,"lab":"Outside"},{"x1":0.55,"x2":0.15,"lab":"Outside"},{"x1":0.6,"x2":0.15,"lab":"Outside"},{"x1":0.65,"x2":0.15,"lab":"Outside"},{"x1":0.7,"x2":0.15,"lab":"Outside"},{"x1":0.75,"x2":0.15,"lab":"Outside"},{"x1":0.8,"x2":0.15,"lab":"Outside"},{"x1":0.85,"x2":0.15,"lab":"Outside"},{"x1":0.9,"x2":0.15,"lab":"Outside"},{"x1":0.95,"x2":0.15,"lab":"Outside"},{"x1":1,"x2":0.15,"lab":"Outside"},
{"x1":-1,"x2":0.1,"lab":"Inside"},{"x1":-0.95,"x2":0.1,"lab":"Inside"},{"x1":-0.9,"x2":0.1,"lab":"Inside"},{"x1":-0.85,"x2":0.1,"lab":"Inside"},{"x1":-0.8,"x2":0.1,"lab":"Inside"},{"x1":-0.75,"x2":0.1,"lab":"Inside"},{"x1":-0.7,"x2":0.1,"lab":"Inside"},{"x1":-0.65,"x2":0.1,"lab":"Inside"},{"x1":-0.6,"x2":0.1,"lab":"Inside"},{"x1":-0.55,"x2":0.1,"lab":"Inside"},{"x1":-0.5,"x2":0.1,"lab":"Inside"},{"x1":-0.45,"x2":0.1,"lab":"Inside"},{"x1":-0.4,"x2":0.1,"lab":"Inside"},{"x1":-0.35,"x2":0.1,"lab":"Inside"},{"x1":-0.3,"x2":0.1,"lab":"Inside"},{"x1":-0.25,"x2":0.1,"lab":"Inside"},{"x1":-0.2,"x2":0.1,"lab":"Inside"},{"x1":-0.15,"x2":0.1,"lab":"Inside"},{"x1":-0.1,"x2":0.1,"lab":"Inside"},{"x1":-0.05,"x2":0.1,"lab":"Inside"},{"x1":0,"x2":0.1,"lab":"Inside"},{"x1":0.05,"x2":0.1,"lab":"Outside"},{"x1":0.1,"x2":0.1,"lab":"Outside"},{"x1":0.15,"x2":0.1,"lab":"Outside"},{"x1":0.2,"x2":0.1,"lab":"Outside"},{"x1":0.25,"x2":0.1,"lab":"Outside"},{"x1":0.3,"x2":0.1,"lab":"Outside"},{"x1":0.35,"x2":0.1,"lab":"Outside"},{"x1":0.4,"x2":0.1,"lab":"Outside"},{"x1":0.45,"x2":0.1,"lab":"Outside"},{"x1":0.5,"x2":0.1,"lab":"Outside"},{"x1":0.55,"x2":0.1,"lab":"Outside"},{"x1":0.6,"x2":0.1,"lab":"Outside"},{"x1":0.65,"x2":0.1,"lab":"Outside"},{"x1":0.7,"x2":0.1,"lab":"Outside"},{"x1":0.75,"x2":0.1,"lab":"Outside"},{"x1":0.8,"x2":0.1,"lab":"Outside"},{"x1":0.85,"x2":0.1,"lab":"Outside"},{"x1":0.9,"x2":0.1,"lab":"Outside"},{"x1":0.95,"x2":0.1,"lab":"Outside"},{"x1":1,"x2":0.1,"lab":"Outside"},
{"x1":-1,"x2":0.05,"lab":"Inside"},{"x1":-0.95,"x2":0.05,"lab":"Inside"},{"x1":-0.9,"x2":0.05,"lab":"Inside"},{"x1":-0.85,"x2":0.05,"lab":"Inside"},{"x1":-0.8,"x2":0.05,"lab":"Inside"},{"x1":-0.75,"x2":0.05,"lab":"Inside"},{"x1":-0.7,"x2":0.05,"lab":"Inside"},{"x1":-0.65,"x2":0.05,"lab":"Inside"},{"x1":-0.6,"x2":0.05,"lab":"Inside"},{"x1":-0.55,"x2":0.05,"lab":"Inside"},{"x1":-0.5,"x2":0.05,"lab":"Inside"},{"x1":-0.45,"x2":0.05,"lab":"Inside"},{"x1":-0.4,"x2":0.05,"lab":"Inside"},{"x1":-0.35,"x2":0.05,"lab":"Inside"},{"x1":-0.3,"x2":0.05,"lab":"Inside"},{"x1":-0.25,"x2":0.05,"lab":"Inside"},{"x1":-0.2,"x2":0.05,"lab":"Inside"},{"x1":-0.15,"x2":0.05,"lab":"Inside"},{"x1":-0.1,"x2":0.05,"lab":"Inside"},{"x1":-0.05,"x2":0.05,"lab":"Inside"},{"x1":0,"x2":0.05,"lab":"Inside"},{"x1":0.05,"x2":0.05,"lab":"Outside"},{"x1":0.1,"x2":0.05,"lab":"Outside"},{"x1":0.15,"x2":0.05,"lab":"Outside"},{"x1":0.2,"x2":0.05,"lab":"Outside"},{"x1":0.25,"x2":0.05,"lab":"Outside"},{"x1":0.3,"x2":0.05,"lab":"Outside"},{"x1":0.35,"x2":0.05,"lab":"Outside"},{"x1":0.4,"x2":0.05,"lab":"Outside"},{"x1":0.45,"x2":0.05,"lab":"Outside"},{"x1":0.5,"x2":0.05,"lab":"Outside"},{"x1":0.55,"x2":0.05,"lab":"Outside"},{"x1":0.6,"x2":0.05,"lab":"Outside"},{"x1":0.65,"x2":0.05,"lab":"Outside"},{"x1":0.7,"x2":0.05,"lab":"Outside"},{"x1":0.75,"x2":0.05,"lab":"Outside"},{"x1":0.8,"x2":0.05,"lab":"Outside"},{"x1":0.85,"x2":0.05,"lab":"Outside"},{"x1":0.9,"x2":0.05,"lab":"Outside"},{"x1":0.95,"x2":0.05,"lab":"Outside"},{"x1":1,"x2":0.05,"lab":"Outside"},
{"x1":-1,"x2":0,"lab":"Inside"},{"x1":-0.95,"x2":0,"lab":"Inside"},{"x1":-0.9,"x2":0,"lab":"Inside"},{"x1":-0.85,"x2":0,"lab":"Inside"},{"x1":-0.8,"x2":0,"lab":"Inside"},{"x1":-0.75,"x2":0,"lab":"Inside"},{"x1":-0.7,"x2":0,"lab":"Inside"},{"x1":-0.65,"x2":0,"lab":"Inside"},{"x1":-0.6,"x2":0,"lab":"Inside"},{"x1":-0.55,"x2":0,"lab":"Inside"},{"x1":-0.5,"x2":0,"lab":"Inside"},{"x1":-0.45,"x2":0,"lab":"Inside"},{"x1":-0.4,"x2":0,"lab":"Inside"},{"x1":-0.35,"x2":0,"lab":"Inside"},{"x1":-0.3,"x2":0,"lab":"Inside"},{"x1":-0.25,"x2":0,"lab":"Inside"},{"x1":-0.2,"x2":0,"lab":"Inside"},{"x1":-0.15,"x2":0,"lab":"Inside"},{"x1":-0.1,"x2":0,"lab":"Inside"},{"x1":-0.05,"x2":0,"lab":"Inside"},{"x1":0,"x2":0,"lab":"Inside"},{"x1":0.05,"x2":0,"lab":"Outside"},{"x1":0.1,"x2":0,"lab":"Outside"},{"x1":0.15,"x2":0,"lab":"Outside"},{"x1":0.2,"x2":0,"lab":"Outside"},{"x1":0.25,"x2":0,"lab":"Outside"},{"x1":0.3,"x2":0,"lab":"Outside"},{"x1":0.35,"x2":0,"lab":"Outside"},{"x1":0.4,"x2":0,"lab":"Outside"},{"x1":0.45,"x2":0,"lab":"Outside"},{"x1":0.5,"x2":0,"lab":"Outside"},{"x1":0.55,"x2":0,"lab":"Outside"},{"x1":0.6,"x2":0,"lab":"Outside"},{"x1":0.65,"x2":0,"lab":"Outside"},{"x1":0.7,"x2":0,"lab":"Outside"},{"x1":0.75,"x2":0,"lab":"Outside"},{"x1":0.8,"x2":0,"lab":"Outside"},{"x1":0.85,"x2":0,"lab":"Outside"},{"x1":0.9,"x2":0,"lab":"Outside"},{"x1":0.95,"x2":0,"lab":"Outside"},{"x1":1,"x2":0,"lab":"Outside"},
{"x1":-1,"x2":-0.05,"lab":"Inside"},{"x1":-0.95,"x2":-0.05,"lab":"Inside"},{"x1":-0.9,"x2":-0.05,"lab":"Inside"},{"x1":-0.85,"x2":-0.05,"lab":"Inside"},{"x1":-0.8,"x2":-0.05,"lab":"Inside"},{"x1":-0.75,"x2":-0.05,"lab":"Inside"},{"x1":-0.7,"x2":-0.05,"lab":"Inside"},{"x1":-0.65,"x2":-0.05,"lab":"Inside"},{"x1":-0.6,"x2":-0.05,"lab":"Inside"},{"x1":-0.55,"x2":-0.05,"lab":"Inside"},{"x1":-0.5,"x2":-0.05,"lab":"Inside"},{"x1":-0.45,"x2":-0.05,"lab":"Inside"},{"x1":-0.4,"x2":-0.05,"lab":"Inside"},{"x1":-0.35,"x2":-0.05,"lab":"Inside"},{"x1":-0.3,"x2":-0.05,"lab":"Inside"},{"x1":-0.25,"x2":-0.05,"lab":"Inside"},{"x1":-0.2,"x2":-0.05,"lab":"Inside"},{"x1":-0.15,"x2":-0.05,"lab":"Inside"},{"x1":-0.1,"x2":-0.05,"lab":"Inside"},{"x1":-0.05,"x2":-0.05,"lab":"Inside"},{"x1":0,"x2":-0.05,"lab":"Inside"},{"x1":0.05,"x2":-0.05,"lab":"Outside"},{"x1":0.1,"x2":-0.05,"lab":"Outside"},{"x1":0.15,"x2":-0.05,"lab":"Outside"},{"x1":0.2,"x2":-0.05,"lab":"Outside"},{"x1":0.25,"x2":-0.05,"lab":"Outside"},{"x1":0.3,"x2":-0.05,"lab":"Outside"},{"x1":0.35,"x2":-0.05,"lab":"Outside"},{"x1":0.4,"x2":-0.05,"lab":"Outside"},{"x1":0.45,"x2":-0.05,"lab":"Outside"},{"x1":0.5,"x2":-0.05,"lab":"Outside"},{"x1":0.55,"x2":-0.05,"lab":"Outside"},{"x1":0.6,"x2":-0.05,"lab":"Outside"},{"x1":0.65,"x2":-0.05,"lab":"Outside"},{"x1":0.7,"x2":-0.05,"lab":"Outside"},{"x1":0.75,"x2":-0.05,"lab":"Outside"},{"x1":0.8,"x2":-0.05,"lab":"Outside"},{"x1":0.85,"x2":-0.05,"lab":"Outside"},{"x1":0.9,"x2":-0.05,"lab":"Outside"},{"x1":0.95,"x2":-0.05,"lab":"Outside"},{"x1":1,"x2":-0.05,"lab":"Outside"},
{"x1":-1,"x2":-0.1,"lab":"Inside"},{"x1":-0.95,"x2":-0.1,"lab":"Inside"},{"x1":-0.9,"x2":-0.1,"lab":"Inside"},{"x1":-0.85,"x2":-0.1,"lab":"Inside"},{"x1":-0.8,"x2":-0.1,"lab":"Inside"},{"x1":-0.75,"x2":-0.1,"lab":"Inside"},{"x1":-0.7,"x2":-0.1,"lab":"Inside"},{"x1":-0.65,"x2":-0.1,"lab":"Inside"},{"x1":-0.6,"x2":-0.1,"lab":"Inside"},{"x1":-0.55,"x2":-0.1,"lab":"Inside"},{"x1":-0.5,"x2":-0.1,"lab":"Inside"},{"x1":-0.45,"x2":-0.1,"lab":"Inside"},{"x1":-0.4,"x2":-0.1,"lab":"Inside"},{"x1":-0.35,"x2":-0.1,"lab":"Inside"},{"x1":-0.3,"x2":-0.1,"lab":"Inside"},{"x1":-0.25,"x2":-0.1,"lab":"Inside"},{"x1":-0.2,"x2":-0.1,"lab":"Inside"},{"x1":-0.15,"x2":-0.1,"lab":"Inside"},{"x1":-0.1,"x2":-0.1,"lab":"Inside"},{"x1":-0.05,"x2":-0.1,"lab":"Inside"},{"x1":0,"x2":-0.1,"lab":"Inside"},{"x1":0.05,"x2":-0.1,"lab":"Outside"},{"x1":0.1,"x2":-0.1,"lab":"Outside"},{"x1":0.15,"x2":-0.1,"lab":"Outside"},{"x1":0.2,"x2":-0.1,"lab":"Outside"},{"x1":0.25,"x2":-0.1,"lab":"Outside"},{"x1":0.3,"x2":-0.1,"lab":"Outside"},{"x1":0.35,"x2":-0.1,"lab":"Outside"},{"x1":0.4,"x2":-0.1,"lab":"Outside"},{"x1":0.45,"x2":-0.1,"lab":"Outside"},{"x1":0.5,"x2":-0.1,"lab":"Outside"},{"x1":0.55,"x2":-0.1,"lab":"Outside"},{"x1":0.6,"x2":-0.1,"lab":"Outside"},{"x1":0.65,"x2":-0.1,"lab":"Outside"},{"x1":0.7,"x2":-0.1,"lab":"Outside"},{"x1":0.75,"x2":-0.1,"lab":"Outside"},{"x1":0.8,"x2":-0.1,"lab":"Outside"},{"x1":0.85,"x2":-0.1,"lab":"Outside"},{"x1":0.9,"x2":-0.1,"lab":"Outside"},{"x1":0.95,"x2":-0.1,"lab":"Outside"},{"x1":1,"x2":-0.1,"lab":"Outside"},
{"x1":-1,"x2":-0.15,"lab":"Inside"},{"x1":-0.95,"x2":-0.15,"lab":"Inside"},{"x1":-0.9,"x2":-0.15,"lab":"Inside"},{"x1":-0.85,"x2":-0.15,"lab":"Inside"},{"x1":-0.8,"x2":-0.15,"lab":"Inside"},{"x1":-0.75,"x2":-0.15,"lab":"Inside"},{"x1":-0.7,"x2":-0.15,"lab":"Inside"},{"x1":-0.65,"x2":-0.15,"lab":"Inside"},{"x1":-0.6,"x2":-0.15,"lab":"Inside"},{"x1":-0.55,"x2":-0.15,"lab":"Inside"},{"x1":-0.5,"x2":-0.15,"lab":"Inside"},{"x1":-0.45,"x2":-0.15,"lab":"Inside"},{"x1":-0.4,"x2":-0.15,"lab":"Inside"},{"x1":-0.35,"x2":-0.15,"lab":"Inside"},{"x1":-0.3,"x2":-0.15,"lab":"Inside"},{"x1":-0.25,"x2":-0.15,"lab":"Inside"},{"x1":-0.2,"x2":-0.15,"lab":"Inside"},{"x1":-0.15,"x2":-0.15,"lab":"Inside"},{"x1":-0.1,"x2":-0.15,"lab":"Inside"},{"x1":-0.05,"x2":-0.15,"lab":"Inside"},{"x1":0,"x2":-0.15,"lab":"Inside"},{"x1":0.05,"x2":-0.15,"lab":"Outside"},{"x1":0.1,"x2":-0.15,"lab":"Outside"},{"x1":0.15,"x2":-0.15,"lab":"Outside"},{"x1":0.2,"x2":-0.15,"lab":"Outside"},{"x1":0.25,"x2":-0.15,"lab":"Outside"},{"x1":0.3,"x2":-0.15,"lab":"Outside"},{"x1":0.35,"x2":-0.15,"lab":"Outside"},{"x1":0.4,"x2":-0.15,"lab":"Outside"},{"x1":0.45,"x2":-0.15,"lab":"Outside"},{"x1":0.5,"x2":-0.15,"lab":"Outside"},{"x1":0.55,"x2":-0.15,"lab":"Outside"},{"x1":0.6,"x2":-0.15,"lab":"Outside"},{"x1":0.65,"x2":-0.15,"lab":"Outside"},{"x1":0.7,"x2":-0.15,"lab":"Outside"},{"x1":0.75,"x2":-0.15,"lab":"Outside"},{"x1":0.8,"x2":-0.15,"lab":"Outside"},{"x1":0.85,"x2":-0.15,"lab":"Outside"},{"x1":0.9,"x2":-0.15,"lab":"Outside"},{"x1":0.95,"x2":-0.15,"lab":"Outside"},{"x1":1,"x2":-0.15,"lab":"Outside"},
{"x1":-1,"x2":-0.2,"lab":"Inside"},{"x1":-0.95,"x2":-0.2,"lab":"Inside"},{"x1":-0.9,"x2":-0.2,"lab":"Inside"},{"x1":-0.85,"x2":-0.2,"lab":"Inside"},{"x1":-0.8,"x2":-0.2,"lab":"Inside"},{"x1":-0.75,"x2":-0.2,"lab":"Inside"},{"x1":-0.7,"x2":-0.2,"lab":"Inside"},{"x1":-0.65,"x2":-0.2,"lab":"Inside"},{"x1":-0.6,"x2":-0.2,"lab":"Inside"},{"x1":-0.55,"x2":-0.2,"lab":"Inside"},{"x1":-0.5,"x2":-0.2,"lab":"Inside"},{"x1":-0.45,"x2":-0.2,"lab":"Inside"},{"x1":-0.4,"x2":-0.2,"lab":"Inside"},{"x1":-0.35,"x2":-0.2,"lab":"Inside"},{"x1":-0.3,"x2":-0.2,"lab":"Inside"},{"x1":-0.25,"x2":-0.2,"lab":"Inside"},{"x1":-0.2,"x2":-0.2,"lab":"Inside"},{"x1":-0.15,"x2":-0.2,"lab":"Inside"},{"x1":-0.1,"x2":-0.2,"lab":"Inside"},{"x1":-0.05,"x2":-0.2,"lab":"Inside"},{"x1":0,"x2":-0.2,"lab":"Inside"},{"x1":0.05,"x2":-0.2,"lab":"Outside"},{"x1":0.1,"x2":-0.2,"lab":"Outside"},{"x1":0.15,"x2":-0.2,"lab":"Outside"},{"x1":0.2,"x2":-0.2,"lab":"Outside"},{"x1":0.25,"x2":-0.2,"lab":"Outside"},{"x1":0.3,"x2":-0.2,"lab":"Outside"},{"x1":0.35,"x2":-0.2,"lab":"Outside"},{"x1":0.4,"x2":-0.2,"lab":"Outside"},{"x1":0.45,"x2":-0.2,"lab":"Outside"},{"x1":0.5,"x2":-0.2,"lab":"Outside"},{"x1":0.55,"x2":-0.2,"lab":"Outside"},{"x1":0.6,"x2":-0.2,"lab":"Outside"},{"x1":0.65,"x2":-0.2,"lab":"Outside"},{"x1":0.7,"x2":-0.2,"lab":"Outside"},{"x1":0.75,"x2":-0.2,"lab":"Outside"},{"x1":0.8,"x2":-0.2,"lab":"Outside"},{"x1":0.85,"x2":-0.2,"lab":"Outside"},{"x1":0.9,"x2":-0.2,"lab":"Outside"},{"x1":0.95,"x2":-0.2,"lab":"Outside"},{"x1":1,"x2":-0.2,"lab":"Outside"},
{"x1":-1,"x2":-0.25,"lab":"Inside"},{"x1":-0.95,"x2":-0.25,"lab":"Inside"},{"x1":-0.9,"x2":-0.25,"lab":"Inside"},{"x1":-0.85,"x2":-0.25,"lab":"Inside"},{"x1":-0.8,"x2":-0.25,"lab":"Inside"},{"x1":-0.75,"x2":-0.25,"lab":"Inside"},{"x1":-0.7,"x2":-0.25,"lab":"Inside"},{"x1":-0.65,"x2":-0.25,"lab":"Inside"},{"x1":-0.6,"x2":-0.25,"lab":"Inside"},{"x1":-0.55,"x2":-0.25,"lab":"Inside"},{"x1":-0.5,"x2":-0.25,"lab":"Inside"},{"x1":-0.45,"x2":-0.25,"lab":"Inside"},{"x1":-0.4,"x2":-0.25,"lab":"Inside"},{"x1":-0.35,"x2":-0.25,"lab":"Inside"},{"x1":-0.3,"x2":-0.25,"lab":"Inside"},{"x1":-0.25,"x2":-0.25,"lab":"Inside"},{"x1":-0.2,"x2":-0.25,"lab":"Inside"},{"x1":-0.15,"x2":-0.25,"lab":"Inside"},{"x1":-0.1,"x2":-0.25,"lab":"Inside"},{"x1":-0.05,"x2":-0.25,"lab":"Inside"},{"x1":0,"x2":-0.25,"lab":"Inside"},{"x1":0.05,"x2":-0.25,"lab":"Outside"},{"x1":0.1,"x2":-0.25,"lab":"Outside"},{"x1":0.15,"x2":-0.25,"lab":"Outside"},{"x1":0.2,"x2":-0.25,"lab":"Outside"},{"x1":0.25,"x2":-0.25,"lab":"Outside"},{"x1":0.3,"x2":-0.25,"lab":"Outside"},{"x1":0.35,"x2":-0.25,"lab":"Outside"},{"x1":0.4,"x2":-0.25,"lab":"Outside"},{"x1":0.45,"x2":-0.25,"lab":"Outside"},{"x1":0.5,"x2":-0.25,"lab":"Outside"},{"x1":0.55,"x2":-0.25,"lab":"Outside"},{"x1":0.6,"x2":-0.25,"lab":"Outside"},{"x1":0.65,"x2":-0.25,"lab":"Outside"},{"x1":0.7,"x2":-0.25,"lab":"Outside"},{"x1":0.75,"x2":-0.25,"lab":"Outside"},{"x1":0.8,"x2":-0.25,"lab":"Outside"},{"x1":0.85,"x2":-0.25,"lab":"Outside"},{"x1":0.9,"x2":-0.25,"lab":"Outside"},{"x1":0.95,"x2":-0.25,"lab":"Outside"},{"x1":1,"x2":-0.25,"lab":"Outside"},
{"x1":-1,"x2":-0.3,"lab":"Inside"},{"x1":-0.95,"x2":-0.3,"lab":"Inside"},{"x1":-0.9,"x2":-0.3,"lab":"Inside"},{"x1":-0.85,"x2":-0.3,"lab":"Inside"},{"x1":-0.8,"x2":-0.3,"lab":"Inside"},{"x1":-0.75,"x2":-0.3,"lab":"Inside"},{"x1":-0.7,"x2":-0.3,"lab":"Inside"},{"x1":-0.65,"x2":-0.3,"lab":"Inside"},{"x1":-0.6,"x2":-0.3,"lab":"Inside"},{"x1":-0.55,"x2":-0.3,"lab":"Inside"},{"x1":-0.5,"x2":-0.3,"lab":"Inside"},{"x1":-0.45,"x2":-0.3,"lab":"Inside"},{"x1":-0.4,"x2":-0.3,"lab":"Inside"},{"x1":-0.35,"x2":-0.3,"lab":"Inside"},{"x1":-0.3,"x2":-0.3,"lab":"Inside"},{"x1":-0.25,"x2":-0.3,"lab":"Inside"},{"x1":-0.2,"x2":-0.3,"lab":"Inside"},{"x1":-0.15,"x2":-0.3,"lab":"Inside"},{"x1":-0.1,"x2":-0.3,"lab":"Inside"},{"x1":-0.05,"x2":-0.3,"lab":"Inside"},{"x1":0,"x2":-0.3,"lab":"Inside"},{"x1":0.05,"x2":-0.3,"lab":"Outside"},{"x1":0.1,"x2":-0.3,"lab":"Outside"},{"x1":0.15,"x2":-0.3,"lab":"Outside"},{"x1":0.2,"x2":-0.3,"lab":"Outside"},{"x1":0.25,"x2":-0.3,"lab":"Outside"},{"x1":0.3,"x2":-0.3,"lab":"Outside"},{"x1":0.35,"x2":-0.3,"lab":"Outside"},{"x1":0.4,"x2":-0.3,"lab":"Outside"},{"x1":0.45,"x2":-0.3,"lab":"Outside"},{"x1":0.5,"x2":-0.3,"lab":"Outside"},{"x1":0.55,"x2":-0.3,"lab":"Outside"},{"x1":0.6,"x2":-0.3,"lab":"Outside"},{"x1":0.65,"x2":-0.3,"lab":"Outside"},{"x1":0.7,"x2":-0.3,"lab":"Outside"},{"x1":0.75,"x2":-0.3,"lab":"Outside"},{"x1":0.8,"x2":-0.3,"lab":"Outside"},{"x1":0.85,"x2":-0.3,"lab":"Outside"},{"x1":0.9,"x2":-0.3,"lab":"Outside"},{"x1":0.95,"x2":-0.3,"lab":"Outside"},{"x1":1,"x2":-0.3,"lab":"Outside"},
{"x1":-1,"x2":-0.35,"lab":"Inside"},{"x1":-0.95,"x2":-0.35,"lab":"Inside"},{"x1":-0.9,"x2":-0.35,"lab":"Inside"},{"x1":-0.85,"x2":-0.35,"lab":"Inside"},{"x1":-0.8,"x2":-0.35,"lab":"Inside"},{"x1":-0.75,"x2":-0.35,"lab":"Inside"},{"x1":-0.7,"x2":-0.35,"lab":"Inside"},{"x1":-0.65,"x2":-0.35,"lab":"Inside"},{"x1":-0.6,"x2":-0.35,"lab":"Inside"},{"x1":-0.55,"x2":-0.35,"lab":"Inside"},{"x1":-0.5,"x2":-0.35,"lab":"Inside"},{"x1":-0.45,"x2":-0.35,"lab":"Inside"},{"x1":-0.4,"x2":-0.35,"lab":"Inside"},{"x1":-0.35,"x2":-0.35,"lab":"Inside"},{"x1":-0.3,"x2":-0.35,"lab":"Inside"},{"x1":-0.25,"x2":-0.35,"lab":"Inside"},{"x1":-0.2,"x2":-0.35,"lab":"Inside"},{"x1":-0.15,"x2":-0.35,"lab":"Inside"},{"x1":-0.1,"x2":-0.35,"lab":"Inside"},{"x1":-0.05,"x2":-0.35,"lab":"Inside"},{"x1":0,"x2":-0.35,"lab":"Inside"},{"x1":0.05,"x2":-0.35,"lab":"Inside"},{"x1":0.1,"x2":-0.35,"lab":"Outside"},{"x1":0.15,"x2":-0.35,"lab":"Outside"},{"x1":0.2,"x2":-0.35,"lab":"Outside"},{"x1":0.25,"x2":-0.35,"lab":"Outside"},{"x1":0.3,"x2":-0.35,"lab":"Outside"},{"x1":0.35,"x2":-0.35,"lab":"Outside"},{"x1":0.4,"x2":-0.35,"lab":"Outside"},{"x1":0.45,"x2":-0.35,"lab":"Outside"},{"x1":0.5,"x2":-0.35,"lab":"Outside"},{"x1":0.55,"x2":-0.35,"lab":"Outside"},{"x1":0.6,"x2":-0.35,"lab":"Outside"},{"x1":0.65,"x2":-0.35,"lab":"Outside"},{"x1":0.7,"x2":-0.35,"lab":"Outside"},{"x1":0.75,"x2":-0.35,"lab":"Outside"},{"x1":0.8,"x2":-0.35,"lab":"Outside"},{"x1":0.85,"x2":-0.35,"lab":"Outside"},{"x1":0.9,"x2":-0.35,"lab":"Outside"},{"x1":0.95,"x2":-0.35,"lab":"Outside"},{"x1":1,"x2":-0.35,"lab":"Outside"},
{"x1":-1,"x2":-0.4,"lab":"Inside"},{"x1":-0.95,"x2":-0.4,"lab":"Inside"},{"x1":-0.9,"x2":-0.4,"lab":"Inside"},{"x1":-0.85,"x2":-0.4,"lab":"Inside"},{"x1":-0.8,"x2":-0.4,"lab":"Inside"},{"x1":-0.75,"x2":-0.4,"lab":"Inside"},{"x1":-0.7,"x2":-0.4,"lab":"Inside"},{"x1":-0.65,"x2":-0.4,"lab":"Inside"},{"x1":-0.6,"x2":-0.4,"lab":"Inside"},{"x1":-0.55,"x2":-0.4,"lab":"Inside"},{"x1":-0.5,"x2":-0.4,"lab":"Inside"},{"x1":-0.45,"x2":-0.4,"lab":"Inside"},{"x1":-0.4,"x2":-0.4,"lab":"Inside"},{"x1":-0.35,"x2":-0.4,"lab":"Inside"},{"x1":-0.3,"x2":-0.4,"lab":"Inside"},{"x1":-0.25,"x2":-0.4,"lab":"Inside"},{"x1":-0.2,"x2":-0.4,"lab":"Inside"},{"x1":-0.15,"x2":-0.4,"lab":"Inside"},{"x1":-0.1,"x2":-0.4,"lab":"Inside"},{"x1":-0.05,"x2":-0.4,"lab":"Inside"},{"x1":0,"x2":-0.4,"lab":"Inside"},{"x1":0.05,"x2":-0.4,"lab":"Inside"},{"x1":0.1,"x2":-0.4,"lab":"Outside"},{"x1":0.15,"x2":-0.4,"lab":"Outside"},{"x1":0.2,"x2":-0.4,"lab":"Outside"},{"x1":0.25,"x2":-0.4,"lab":"Outside"},{"x1":0.3,"x2":-0.4,"lab":"Outside"},{"x1":0.35,"x2":-0.4,"lab":"Outside"},{"x1":0.4,"x2":-0.4,"lab":"Outside"},{"x1":0.45,"x2":-0.4,"lab":"Outside"},{"x1":0.5,"x2":-0.4,"lab":"Outside"},{"x1":0.55,"x2":-0.4,"lab":"Outside"},{"x1":0.6,"x2":-0.4,"lab":"Outside"},{"x1":0.65,"x2":-0.4,"lab":"Outside"},{"x1":0.7,"x2":-0.4,"lab":"Outside"},{"x1":0.75,"x2":-0.4,"lab":"Outside"},{"x1":0.8,"x2":-0.4,"lab":"Outside"},{"x1":0.85,"x2":-0.4,"lab":"Outside"},{"x1":0.9,"x2":-0.4,"lab":"Outside"},{"x1":0.95,"x2":-0.4,"lab":"Outside"},{"x1":1,"x2":-0.4,"lab":"Outside"},
{"x1":-1,"x2":-0.45,"lab":"Inside"},{"x1":-0.95,"x2":-0.45,"lab":"Inside"},{"x1":-0.9,"x2":-0.45,"lab":"Inside"},{"x1":-0.85,"x2":-0.45,"lab":"Inside"},{"x1":-0.8,"x2":-0.45,"lab":"Inside"},{"x1":-0.75,"x2":-0.45,"lab":"Inside"},{"x1":-0.7,"x2":-0.45,"lab":"Inside"},{"x1":-0.65,"x2":-0.45,"lab":"Inside"},{"x1":-0.6,"x2":-0.45,"lab":"Inside"},{"x1":-0.55,"x2":-0.45,"lab":"Inside"},{"x1":-0.5,"x2":-0.45,"lab":"Inside"},{"x1":-0.45,"x2":-0.45,"lab":"Inside"},{"x1":-0.4,"x2":-0.45,"lab":"Inside"},{"x1":-0.35,"x2":-0.45,"lab":"Inside"},{"x1":-0.3,"x2":-0.45,"lab":"Inside"},{"x1":-0.25,"x2":-0.45,"lab":"Inside"},{"x1":-0.2,"x2":-0.45,"lab":"Inside"},{"x1":-0.15,"x2":-0.45,"lab":"Inside"},{"x1":-0.1,"x2":-0.45,"lab":"Inside"},{"x1":-0.05,"x2":-0.45,"lab":"Inside"},{"x1":0,"x2":-0.45,"lab":"Inside"},{"x1":0.05,"x2":-0.45,"lab":"Inside"},{"x1":0.1,"x2":-0.45,"lab":"Outside"},{"x1":0.15,"x2":-0.45,"lab":"Outside"},{"x1":0.2,"x2":-0.45,"lab":"Outside"},{"x1":0.25,"x2":-0.45,"lab":"Outside"},{"x1":0.3,"x2":-0.45,"lab":"Outside"},{"x1":0.35,"x2":-0.45,"lab":"Outside"},{"x1":0.4,"x2":-0.45,"lab":"Outside"},{"x1":0.45,"x2":-0.45,"lab":"Outside"},{"x1":0.5,"x2":-0.45,"lab":"Outside"},{"x1":0.55,"x2":-0.45,"lab":"Outside"},{"x1":0.6,"x2":-0.45,"lab":"Outside"},{"x1":0.65,"x2":-0.45,"lab":"Outside"},{"x1":0.7,"x2":-0.45,"lab":"Outside"},{"x1":0.75,"x2":-0.45,"lab":"Outside"},{"x1":0.8,"x2":-0.45,"lab":"Outside"},{"x1":0.85,"x2":-0.45,"lab":"Outside"},{"x1":0.9,"x2":-0.45,"lab":"Outside"},{"x1":0.95,"x2":-0.45,"lab":"Outside"},{"x1":1,"x2":-0.45,"lab":"Outside"},
{"x1":-1,"x2":-0.5,"lab":"Inside"},{"x1":-0.95,"x2":-0.5,"lab":"Inside"},{"x1":-0.9,"x2":-0.5,"lab":"Inside"},{"x1":-0.85,"x2":-0.5,"lab":"Inside"},{"x1":-0.8,"x2":-0.5,"lab":"Inside"},{"x1":-0.75,"x2":-0.5,"lab":"Inside"},{"x1":-0.7,"x2":-0.5,"lab":"Inside"},{"x1":-0.65,"x2":-0.5,"lab":"Inside"},{"x1":-0.6,"x2":-0.5,"lab":"Inside"},{"x1":-0.55,"x2":-0.5,"lab":"Inside"},{"x1":-0.5,"x2":-0.5,"lab":"Inside"},{"x1":-0.45,"x2":-0.5,"lab":"Inside"},{"x1":-0.4,"x2":-0.5,"lab":"Inside"},{"x1":-0.35,"x2":-0.5,"lab":"Inside"},{"x1":-0.3,"x2":-0.5,"lab":"Inside"},{"x1":-0.25,"x2":-0.5,"lab":"Inside"},{"x1":-0.2,"x2":-0.5,"lab":"Inside"},{"x1":-0.15,"x2":-0.5,"lab":"Inside"},{"x1":-0.1,"x2":-0.5,"lab":"Inside"},{"x1":-0.05,"x2":-0.5,"lab":"Inside"},{"x1":0,"x2":-0.5,"lab":"Inside"},{"x1":0.05,"x2":-0.5,"lab":"Inside"},{"x1":0.1,"x2":-0.5,"lab":"Inside"},{"x1":0.15,"x2":-0.5,"lab":"Outside"},{"x1":0.2,"x2":-0.5,"lab":"Outside"},{"x1":0.25,"x2":-0.5,"lab":"Outside"},{"x1":0.3,"x2":-0.5,"lab":"Outside"},{"x1":0.35,"x2":-0.5,"lab":"Outside"},{"x1":0.4,"x2":-0.5,"lab":"Outside"},{"x1":0.45,"x2":-0.5,"lab":"Outside"},{"x1":0.5,"x2":-0.5,"lab":"Outside"},{"x1":0.55,"x2":-0.5,"lab":"Outside"},{"x1":0.6,"x2":-0.5,"lab":"Outside"},{"x1":0.65,"x2":-0.5,"lab":"Outside"},{"x1":0.7,"x2":-0.5,"lab":"Outside"},{"x1":0.75,"x2":-0.5,"lab":"Outside"},{"x1":0.8,"x2":-0.5,"lab":"Outside"},{"x1":0.85,"x2":-0.5,"lab":"Outside"},{"x1":0.9,"x2":-0.5,"lab":"Outside"},{"x1":0.95,"x2":-0.5,"lab":"Outside"},{"x1":1,"x2":-0.5,"lab":"Outside"},
{"x1":-1,"x2":-0.55,"lab":"Inside"},{"x1":-0.95,"x2":-0.55,"lab":"Inside"},{"x1":-0.9,"x2":-0.55,"lab":"Inside"},{"x1":-0.85,"x2":-0.55,"lab":"Inside"},{"x1":-0.8,"x2":-0.55,"lab":"Inside"},{"x1":-0.75,"x2":-0.55,"lab":"Inside"},{"x1":-0.7,"x2":-0.55,"lab":"Inside"},{"x1":-0.65,"x2":-0.55,"lab":"Inside"},{"x1":-0.6,"x2":-0.55,"lab":"Inside"},{"x1":-0.55,"x2":-0.55,"lab":"Inside"},{"x1":-0.5,"x2":-0.55,"lab":"Inside"},{"x1":-0.45,"x2":-0.55,"lab":"Inside"},{"x1":-0.4,"x2":-0.55,"lab":"Inside"},{"x1":-0.35,"x2":-0.55,"lab":"Inside"},{"x1":-0.3,"x2":-0.55,"lab":"Inside"},{"x1":-0.25,"x2":-0.55,"lab":"Inside"},{"x1":-0.2,"x2":-0.55,"lab":"Inside"},{"x1":-0.15,"x2":-0.55,"lab":"Inside"},{"x1":-0.1,"x2":-0.55,"lab":"Inside"},{"x1":-0.05,"x2":-0.55,"lab":"Inside"},{"x1":0,"x2":-0.55,"lab":"Inside"},{"x1":0.05,"x2":-0.55,"lab":"Inside"},{"x1":0.1,"x2":-0.55,"lab":"Inside"},{"x1":0.15,"x2":-0.55,"lab":"Outside"},{"x1":0.2,"x2":-0.55,"lab":"Outside"},{"x1":0.25,"x2":-0.55,"lab":"Outside"},{"x1":0.3,"x2":-0.55,"lab":"Outside"},{"x1":0.35,"x2":-0.55,"lab":"Outside"},{"x1":0.4,"x2":-0.55,"lab":"Outside"},{"x1":0.45,"x2":-0.55,"lab":"Outside"},{"x1":0.5,"x2":-0.55,"lab":"Outside"},{"x1":0.55,"x2":-0.55,"lab":"Outside"},{"x1":0.6,"x2":-0.55,"lab":"Outside"},{"x1":0.65,"x2":-0.55,"lab":"Outside"},{"x1":0.7,"x2":-0.55,"lab":"Outside"},{"x1":0.75,"x2":-0.55,"lab":"Outside"},{"x1":0.8,"x2":-0.55,"lab":"Outside"},{"x1":0.85,"x2":-0.55,"lab":"Outside"},{"x1":0.9,"x2":-0.55,"lab":"Outside"},{"x1":0.95,"x2":-0.55,"lab":"Outside"},{"x1":1,"x2":-0.55,"lab":"Outside"},
{"x1":-1,"x2":-0.6,"lab":"Outside"},{"x1":-0.95,"x2":-0.6,"lab":"Inside"},{"x1":-0.9,"x2":-0.6,"lab":"Inside"},{"x1":-0.85,"x2":-0.6,"lab":"Inside"},{"x1":-0.8,"x2":-0.6,"lab":"Inside"},{"x1":-0.75,"x2":-0.6,"lab":"Inside"},{"x1":-0.7,"x2":-0.6,"lab":"Inside"},{"x1":-0.65,"x2":-0.6,"lab":"Inside"},{"x1":-0.6,"x2":-0.6,"lab":"Inside"},{"x1":-0.55,"x2":-0.6,"lab":"Inside"},{"x1":-0.5,"x2":-0.6,"lab":"Inside"},{"x1":-0.45,"x2":-0.6,"lab":"Inside"},{"x1":-0.4,"x2":-0.6,"lab":"Inside"},{"x1":-0.35,"x2":-0.6,"lab":"Inside"},{"x1":-0.3,"x2":-0.6,"lab":"Inside"},{"x1":-0.25,"x2":-0.6,"lab":"Inside"},{"x1":-0.2,"x2":-0.6,"lab":"Inside"},{"x1":-0.15,"x2":-0.6,"lab":"Inside"},{"x1":-0.1,"x2":-0.6,"lab":"Inside"},{"x1":-0.05,"x2":-0.6,"lab":"Inside"},{"x1":0,"x2":-0.6,"lab":"Inside"},{"x1":0.05,"x2":-0.6,"lab":"Inside"},{"x1":0.1,"x2":-0.6,"lab":"Inside"},{"x1":0.15,"x2":-0.6,"lab":"Inside"},{"x1":0.2,"x2":-0.6,"lab":"Outside"},{"x1":0.25,"x2":-0.6,"lab":"Outside"},{"x1":0.3,"x2":-0.6,"lab":"Outside"},{"x1":0.35,"x2":-0.6,"lab":"Outside"},{"x1":0.4,"x2":-0.6,"lab":"Outside"},{"x1":0.45,"x2":-0.6,"lab":"Outside"},{"x1":0.5,"x2":-0.6,"lab":"Outside"},{"x1":0.55,"x2":-0.6,"lab":"Outside"},{"x1":0.6,"x2":-0.6,"lab":"Outside"},{"x1":0.65,"x2":-0.6,"lab":"Outside"},{"x1":0.7,"x2":-0.6,"lab":"Outside"},{"x1":0.75,"x2":-0.6,"lab":"Outside"},{"x1":0.8,"x2":-0.6,"lab":"Outside"},{"x1":0.85,"x2":-0.6,"lab":"Outside"},{"x1":0.9,"x2":-0.6,"lab":"Outside"},{"x1":0.95,"x2":-0.6,"lab":"Outside"},{"x1":1,"x2":-0.6,"lab":"Outside"},
{"x1":-1,"x2":-0.65,"lab":"Outside"},{"x1":-0.95,"x2":-0.65,"lab":"Outside"},{"x1":-0.9,"x2":-0.65,"lab":"Inside"},{"x1":-0.85,"x2":-0.65,"lab":"Inside"},{"x1":-0.8,"x2":-0.65,"lab":"Inside"},{"x1":-0.75,"x2":-0.65,"lab":"Inside"},{"x1":-0.7,"x2":-0.65,"lab":"Inside"},{"x1":-0.65,"x2":-0.65,"lab":"Inside"},{"x1":-0.6,"x2":-0.65,"lab":"Inside"},{"x1":-0.55,"x2":-0.65,"lab":"Inside"},{"x1":-0.5,"x2":-0.65,"lab":"Inside"},{"x1":-0.45,"x2":-0.65,"lab":"Inside"},{"x1":-0.4,"x2":-0.65,"lab":"Inside"},{"x1":-0.35,"x2":-0.65,"lab":"Inside"},{"x1":-0.3,"x2":-0.65,"lab":"Inside"},{"x1":-0.25,"x2":-0.65,"lab":"Inside"},{"x1":-0.2,"x2":-0.65,"lab":"Inside"},{"x1":-0.15,"x2":-0.65,"lab":"Inside"},{"x1":-0.1,"x2":-0.65,"lab":"Inside"},{"x1":-0.05,"x2":-0.65,"lab":"Inside"},{"x1":0,"x2":-0.65,"lab":"Inside"},{"x1":0.05,"x2":-0.65,"lab":"Inside"},{"x1":0.1,"x2":-0.65,"lab":"Inside"},{"x1":0.15,"x2":-0.65,"lab":"Inside"},{"x1":0.2,"x2":-0.65,"lab":"Inside"},{"x1":0.25,"x2":-0.65,"lab":"Outside"},{"x1":0.3,"x2":-0.65,"lab":"Outside"},{"x1":0.35,"x2":-0.65,"lab":"Outside"},{"x1":0.4,"x2":-0.65,"lab":"Outside"},{"x1":0.45,"x2":-0.65,"lab":"Outside"},{"x1":0.5,"x2":-0.65,"lab":"Outside"},{"x1":0.55,"x2":-0.65,"lab":"Outside"},{"x1":0.6,"x2":-0.65,"lab":"Outside"},{"x1":0.65,"x2":-0.65,"lab":"Outside"},{"x1":0.7,"x2":-0.65,"lab":"Outside"},{"x1":0.75,"x2":-0.65,"lab":"Outside"},{"x1":0.8,"x2":-0.65,"lab":"Outside"},{"x1":0.85,"x2":-0.65,"lab":"Outside"},{"x1":0.9,"x2":-0.65,"lab":"Outside"},{"x1":0.95,"x2":-0.65,"lab":"Outside"},{"x1":1,"x2":-0.65,"lab":"Outside"},
{"x1":-1,"x2":-0.7,"lab":"Outside"},{"x1":-0.95,"x2":-0.7,"lab":"Outside"},{"x1":-0.9,"x2":-0.7,"lab":"Outside"},{"x1":-0.85,"x2":-0.7,"lab":"Inside"},{"x1":-0.8,"x2":-0.7,"lab":"Inside"},{"x1":-0.75,"x2":-0.7,"lab":"Inside"},{"x1":-0.7,"x2":-0.7,"lab":"Inside"},{"x1":-0.65,"x2":-0.7,"lab":"Inside"},{"x1":-0.6,"x2":-0.7,"lab":"Inside"},{"x1":-0.55,"x2":-0.7,"lab":"Inside"},{"x1":-0.5,"x2":-0.7,"lab":"Inside"},{"x1":-0.45,"x2":-0.7,"lab":"Inside"},{"x1":-0.4,"x2":-0.7,"lab":"Inside"},{"x1":-0.35,"x2":-0.7,"lab":"Inside"},{"x1":-0.3,"x2":-0.7,"lab":"Inside"},{"x1":-0.25,"x2":-0.7,"lab":"Inside"},{"x1":-0.2,"x2":-0.7,"lab":"Inside"},{"x1":-0.15,"x2":-0.7,"lab":"Inside"},{"x1":-0.1,"x2":-0.7,"lab":"Inside"},{"x1":-0.05,"x2":-0.7,"lab":"Inside"},{"x1":0,"x2":-0.7,"lab":"Inside"},{"x1":0.05,"x2":-0.7,"lab":"Inside"},{"x1":0.1,"x2":-0.7,"lab":"Inside"},{"x1":0.15,"x2":-0.7,"lab":"Inside"},{"x1":0.2,"x2":-0.7,"lab":"Inside"},{"x1":0.25,"x2":-0.7,"lab":"Outside"},{"x1":0.3,"x2":-0.7,"lab":"Outside"},{"x1":0.35,"x2":-0.7,"lab":"Outside"},{"x1":0.4,"x2":-0.7,"lab":"Outside"},{"x1":0.45,"x2":-0.7,"lab":"Outside"},{"x1":0.5,"x2":-0.7,"lab":"Outside"},{"x1":0.55,"x2":-0.7,"lab":"Outside"},{"x1":0.6,"x2":-0.7,"lab":"Outside"},{"x1":0.65,"x2":-0.7,"lab":"Outside"},{"x1":0.7,"x2":-0.7,"lab":"Outside"},{"x1":0.75,"x2":-0.7,"lab":"Outside"},{"x1":0.8,"x2":-0.7,"lab":"Outside"},{"x1":0.85,"x2":-0.7,"lab":"Outside"},{"x1":0.9,"x2":-0.7,"lab":"Outside"},{"x1":0.95,"x2":-0.7,"lab":"Outside"},{"x1":1,"x2":-0.7,"lab":"Outside"},
{"x1":-1,"x2":-0.75,"lab":"Outside"},{"x1":-0.95,"x2":-0.75,"lab":"Outside"},{"x1":-0.9,"x2":-0.75,"lab":"Outside"},{"x1":-0.85,"x2":-0.75,"lab":"Outside"},{"x1":-0.8,"x2":-0.75,"lab":"Inside"},{"x1":-0.75,"x2":-0.75,"lab":"Inside"},{"x1":-0.7,"x2":-0.75,"lab":"Inside"},{"x1":-0.65,"x2":-0.75,"lab":"Inside"},{"x1":-0.6,"x2":-0.75,"lab":"Inside"},{"x1":-0.55,"x2":-0.75,"lab":"Inside"},{"x1":-0.5,"x2":-0.75,"lab":"Inside"},{"x1":-0.45,"x2":-0.75,"lab":"Inside"},{"x1":-0.4,"x2":-0.75,"lab":"Inside"},{"x1":-0.35,"x2":-0.75,"lab":"Inside"},{"x1":-0.3,"x2":-0.75,"lab":"Inside"},{"x1":-0.25,"x2":-0.75,"lab":"Inside"},{"x1":-0.2,"x2":-0.75,"lab":"Inside"},{"x1":-0.15,"x2":-0.75,"lab":"Inside"},{"x1":-0.1,"x2":-0.75,"lab":"Inside"},{"x1":-0.05,"x2":-0.75,"lab":"Inside"},{"x1":0,"x2":-0.75,"lab":"Inside"},{"x1":0.05,"x2":-0.75,"lab":"Inside"},{"x1":0.1,"x2":-0.75,"lab":"Inside"},{"x1":0.15,"x2":-0.75,"lab":"Inside"},{"x1":0.2,"x2":-0.75,"lab":"Inside"},{"x1":0.25,"x2":-0.75,"lab":"Inside"},{"x1":0.3,"x2":-0.75,"lab":"Outside"},{"x1":0.35,"x2":-0.75,"lab":"Outside"},{"x1":0.4,"x2":-0.75,"lab":"Outside"},{"x1":0.45,"x2":-0.75,"lab":"Outside"},{"x1":0.5,"x2":-0.75,"lab":"Outside"},{"x1":0.55,"x2":-0.75,"lab":"Outside"},{"x1":0.6,"x2":-0.75,"lab":"Outside"},{"x1":0.65,"x2":-0.75,"lab":"Outside"},{"x1":0.7,"x2":-0.75,"lab":"Outside"},{"x1":0.75,"x2":-0.75,"lab":"Outside"},{"x1":0.8,"x2":-0.75,"lab":"Outside"},{"x1":0.85,"x2":-0.75,"lab":"Outside"},{"x1":0.9,"x2":-0.75,"lab":"Outside"},{"x1":0.95,"x2":-0.75,"lab":"Outside"},{"x1":1,"x2":-0.75,"lab":"Outside"},
{"x1":-1,"x2":-0.8,"lab":"Outside"},{"x1":-0.95,"x2":-0.8,"lab":"Outside"},{"x1":-0.9,"x2":-0.8,"lab":"Outside"},{"x1":-0.85,"x2":-0.8,"lab":"Outside"},{"x1":-0.8,"x2":-0.8,"lab":"Outside"},{"x1":-0.75,"x2":-0.8,"lab":"Inside"},{"x1":-0.7,"x2":-0.8,"lab":"Inside"},{"x1":-0.65,"x2":-0.8,"lab":"Inside"},{"x1":-0.6,"x2":-0.8,"lab":"Inside"},{"x1":-0.55,"x2":-0.8,"lab":"Inside"},{"x1":-0.5,"x2":-0.8,"lab":"Inside"},{"x1":-0.45,"x2":-0.8,"lab":"Inside"},{"x1":-0.4,"x2":-0.8,"lab":"Inside"},{"x1":-0.35,"x2":-0.8,"lab":"Inside"},{"x1":-0.3,"x2":-0.8,"lab":"Inside"},{"x1":-0.25,"x2":-0.8,"lab":"Inside"},{"x1":-0.2,"x2":-0.8,"lab":"Inside"},{"x1":-0.15,"x2":-0.8,"lab":"Inside"},{"x1":-0.1,"x2":-0.8,"lab":"Inside"},{"x1":-0.05,"x2":-0.8,"lab":"Inside"},{"x1":0,"x2":-0.8,"lab":"Inside"},{"x1":0.05,"x2":-0.8,"lab":"Inside"},{"x1":0.1,"x2":-0.8,"lab":"Inside"},{"x1":0.15,"x2":-0.8,"lab":"Inside"},{"x1":0.2,"x2":-0.8,"lab":"Inside"},{"x1":0.25,"x2":-0.8,"lab":"Inside"},{"x1":0.3,"x2":-0.8,"lab":"Inside"},{"x1":0.35,"x2":-0.8,"lab":"Outside"},{"x1":0.4,"x2":-0.8,"lab":"Outside"},{"x1":0.45,"x2":-0.8,"lab":"Outside"},{"x1":0.5,"x2":-0.8,"lab":"Outside"},{"x1":0.55,"x2":-0.8,"lab":"Outside"},{"x1":0.6,"x2":-0.8,"lab":"Outside"},{"x1":0.65,"x2":-0.8,"lab":"Outside"},{"x1":0.7,"x2":-0.8,"lab":"Outside"},{"x1":0.75,"x2":-0.8,"lab":"Outside"},{"x1":0.8,"x2":-0.8,"lab":"Outside"},{"x1":0.85,"x2":-0.8,"lab":"Outside"},{"x1":0.9,"x2":-0.8,"lab":"Outside"},{"x1":0.95,"x2":-0.8,"lab":"Outside"},{"x1":1,"x2":-0.8,"lab":"Outside"},
{"x1":-1,"x2":-0.85,"lab":"Outside"},{"x1":-0.95,"x2":-0.85,"lab":"Outside"},{"x1":-0.9,"x2":-0.85,"lab":"Outside"},{"x1":-0.85,"x2":-0.85,"lab":"Outside"},{"x1":-0.8,"x2":-0.85,"lab":"Outside"},{"x1":-0.75,"x2":-0.85,"lab":"Outside"},{"x1":-0.7,"x2":-0.85,"lab":"Inside"},{"x1":-0.65,"x2":-0.85,"lab":"Inside"},{"x1":-0.6,"x2":-0.85,"lab":"Inside"},{"x1":-0.55,"x2":-0.85,"lab":"Inside"},{"x1":-0.5,"x2":-0.85,"lab":"Inside"},{"x1":-0.45,"x2":-0.85,"lab":"Inside"},{"x1":-0.4,"x2":-0.85,"lab":"Inside"},{"x1":-0.35,"x2":-0.85,"lab":"Inside"},{"x1":-0.3,"x2":-0.85,"lab":"Inside"},{"x1":-0.25,"x2":-0.85,"lab":"Inside"},{"x1":-0.2,"x2":-0.85,"lab":"Inside"},{"x1":-0.15,"x2":-0.85,"lab":"Inside"},{"x1":-0.1,"x2":-0.85,"lab":"Inside"},{"x1":-0.05,"x2":-0.85,"lab":"Inside"},{"x1":0,"x2":-0.85,"lab":"Inside"},{"x1":0.05,"x2":-0.85,"lab":"Inside"},{"x1":0.1,"x2":-0.85,"lab":"Inside"},{"x1":0.15,"x2":-0.85,"lab":"Inside"},{"x1":0.2,"x2":-0.85,"lab":"Inside"},{"x1":0.25,"x2":-0.85,"lab":"Inside"},{"x1":0.3,"x2":-0.85,"lab":"Inside"},{"x1":0.35,"x2":-0.85,"lab":"Outside"},{"x1":0.4,"x2":-0.85,"lab":"Outside"},{"x1":0.45,"x2":-0.85,"lab":"Outside"},{"x1":0.5,"x2":-0.85,"lab":"Outside"},{"x1":0.55,"x2":-0.85,"lab":"Outside"},{"x1":0.6,"x2":-0.85,"lab":"Outside"},{"x1":0.65,"x2":-0.85,"lab":"Outside"},{"x1":0.7,"x2":-0.85,"lab":"Outside"},{"x1":0.75,"x2":-0.85,"lab":"Outside"},{"x1":0.8,"x2":-0.85,"lab":"Outside"},{"x1":0.85,"x2":-0.85,"lab":"Outside"},{"x1":0.9,"x2":-0.85,"lab":"Outside"},{"x1":0.95,"x2":-0.85,"lab":"Outside"},{"x1":1,"x2":-0.85,"lab":"Outside"},
{"x1":-1,"x2":-0.9,"lab":"Outside"},{"x1":-0.95,"x2":-0.9,"lab":"Outside"},{"x1":-0.9,"x2":-0.9,"lab":"Outside"},{"x1":-0.85,"x2":-0.9,"lab":"Outside"},{"x1":-0.8,"x2":-0.9,"lab":"Outside"},{"x1":-0.75,"x2":-0.9,"lab":"Outside"},{"x1":-0.7,"x2":-0.9,"lab":"Outside"},{"x1":-0.65,"x2":-0.9,"lab":"Inside"},{"x1":-0.6,"x2":-0.9,"lab":"Inside"},{"x1":-0.55,"x2":-0.9,"lab":"Inside"},{"x1":-0.5,"x2":-0.9,"lab":"Inside"},{"x1":-0.45,"x2":-0.9,"lab":"Inside"},{"x1":-0.4,"x2":-0.9,"lab":"Inside"},{"x1":-0.35,"x2":-0.9,"lab":"Inside"},{"x1":-0.3,"x2":-0.9,"lab":"Inside"},{"x1":-0.25,"x2":-0.9,"lab":"Inside"},{"x1":-0.2,"x2":-0.9,"lab":"Inside"},{"x1":-0.15,"x2":-0.9,"lab":"Inside"},{"x1":-0.1,"x2":-0.9,"lab":"Inside"},{"x1":-0.05,"x2":-0.9,"lab":"Inside"},{"x1":0,"x2":-0.9,"lab":"Inside"},{"x1":0.05,"x2":-0.9,"lab":"Inside"},{"x1":0.1,"x2":-0.9,"lab":"Inside"},{"x1":0.15,"x2":-0.9,"lab":"Inside"},{"x1":0.2,"x2":-0.9,"lab":"Inside"},{"x1":0.25,"x2":-0.9,"lab":"Inside"},{"x1":0.3,"x2":-0.9,"lab":"Inside"},{"x1":0.35,"x2":-0.9,"lab":"Inside"},{"x1":0.4,"x2":-0.9,"lab":"Outside"},{"x1":0.45,"x2":-0.9,"lab":"Outside"},{"x1":0.5,"x2":-0.9,"lab":"Outside"},{"x1":0.55,"x2":-0.9,"lab":"Outside"},{"x1":0.6,"x2":-0.9,"lab":"Outside"},{"x1":0.65,"x2":-0.9,"lab":"Outside"},{"x1":0.7,"x2":-0.9,"lab":"Outside"},{"x1":0.75,"x2":-0.9,"lab":"Outside"},{"x1":0.8,"x2":-0.9,"lab":"Outside"},{"x1":0.85,"x2":-0.9,"lab":"Outside"},{"x1":0.9,"x2":-0.9,"lab":"Outside"},{"x1":0.95,"x2":-0.9,"lab":"Outside"},{"x1":1,"x2":-0.9,"lab":"Outside"},
{"x1":-1,"x2":-0.95,"lab":"Outside"},{"x1":-0.95,"x2":-0.95,"lab":"Outside"},{"x1":-0.9,"x2":-0.95,"lab":"Outside"},{"x1":-0.85,"x2":-0.95,"lab":"Outside"},{"x1":-0.8,"x2":-0.95,"lab":"Outside"},{"x1":-0.75,"x2":-0.95,"lab":"Outside"},{"x1":-0.7,"x2":-0.95,"lab":"Outside"},{"x1":-0.65,"x2":-0.95,"lab":"Outside"},{"x1":-0.6,"x2":-0.95,"lab":"Inside"},{"x1":-0.55,"x2":-0.95,"lab":"Inside"},{"x1":-0.5,"x2":-0.95,"lab":"Inside"},{"x1":-0.45,"x2":-0.95,"lab":"Inside"},{"x1":-0.4,"x2":-0.95,"lab":"Inside"},{"x1":-0.35,"x2":-0.95,"lab":"Inside"},{"x1":-0.3,"x2":-0.95,"lab":"Inside"},{"x1":-0.25,"x2":-0.95,"lab":"Inside"},{"x1":-0.2,"x2":-0.95,"lab":"Inside"},{"x1":-0.15,"x2":-0.95,"lab":"Inside"},{"x1":-0.1,"x2":-0.95,"lab":"Inside"},{"x1":-0.05,"x2":-0.95,"lab":"Inside"},{"x1":0,"x2":-0.95,"lab":"Inside"},{"x1":0.05,"x2":-0.95,"lab":"Inside"},{"x1":0.1,"x2":-0.95,"lab":"Inside"},{"x1":0.15,"x2":-0.95,"lab":"Inside"},{"x1":0.2,"x2":-0.95,"lab":"Inside"},{"x1":0.25,"x2":-0.95,"lab":"Inside"},{"x1":0.3,"x2":-0.95,"lab":"Inside"},{"x1":0.35,"x2":-0.95,"lab":"Inside"},{"x1":0.4,"x2":-0.95,"lab":"Inside"},{"x1":0.45,"x2":-0.95,"lab":"Outside"},{"x1":0.5,"x2":-0.95,"lab":"Outside"},{"x1":0.55,"x2":-0.95,"lab":"Outside"},{"x1":0.6,"x2":-0.95,"lab":"Outside"},{"x1":0.65,"x2":-0.95,"lab":"Outside"},{"x1":0.7,"x2":-0.95,"lab":"Outside"},{"x1":0.75,"x2":-0.95,"lab":"Outside"},{"x1":0.8,"x2":-0.95,"lab":"Outside"},{"x1":0.85,"x2":-0.95,"lab":"Outside"},{"x1":0.9,"x2":-0.95,"lab":"Outside"},{"x1":0.95,"x2":-0.95,"lab":"Outside"},{"x1":1,"x2":-0.95,"lab":"Outside"},
{"x1":-1,"x2":-1,"lab":"Outside"},{"x1":-0.95,"x2":-1,"lab":"Outside"},{"x1":-0.9,"x2":-1,"lab":"Outside"},{"x1":-0.85,"x2":-1,"lab":"Outside"},{"x1":-0.8,"x2":-1,"lab":"Outside"},{"x1":-0.75,"x2":-1,"lab":"Outside"},{"x1":-0.7,"x2":-1,"lab":"Outside"},{"x1":-0.65,"x2":-1,"lab":"Outside"},{"x1":-0.6,"x2":-1,"lab":"Outside"},{"x1":-0.55,"x2":-1,"lab":"Inside"},{"x1":-0.5,"x2":-1,"lab":"Inside"},{"x1":-0.45,"x2":-1,"lab":"Inside"},{"x1":-0.4,"x2":-1,"lab":"Inside"},{"x1":-0.35,"x2":-1,"lab":"Inside"},{"x1":-0.3,"x2":-1,"lab":"Inside"},{"x1":-0.25,"x2":-1,"lab":"Inside"},{"x1":-0.2,"x2":-1,"lab":"Inside"},{"x1":-0.15,"x2":-1,"lab":"Inside"},{"x1":-0.1,"x2":-1,"lab":"Inside"},{"x1":-0.05,"x2":-1,"lab":"Inside"},{"x1":0,"x2":-1,"lab":"Inside"},{"x1":0.05,"x2":-1,"lab":"Inside"},{"x1":0.1,"x2":-1,"lab":"Inside"},{"x1":0.15,"x2":-1,"lab":"Inside"},{"x1":0.2,"x2":-1,"lab":"Inside"},{"x1":0.25,"x2":-1,"lab":"Inside"},{"x1":0.3,"x2":-1,"lab":"Inside"},{"x1":0.35,"x2":-1,"lab":"Inside"},{"x1":0.4,"x2":-1,"lab":"Inside"},{"x1":0.45,"x2":-1,"lab":"Inside"},{"x1":0.5,"x2":-1,"lab":"Outside"},{"x1":0.55,"x2":-1,"lab":"Outside"},{"x1":0.6,"x2":-1,"lab":"Outside"},{"x1":0.65,"x2":-1,"lab":"Outside"},{"x1":0.7,"x2":-1,"lab":"Outside"},{"x1":0.75,"x2":-1,"lab":"Outside"},{"x1":0.8,"x2":-1,"lab":"Outside"},{"x1":0.85,"x2":-1,"lab":"Outside"},{"x1":0.9,"x2":-1,"lab":"Outside"},{"x1":0.95,"x2":-1,"lab":"Outside"},{"x1":1,"x2":-1,"lab":"Outside"}
]},
"mark":{"type":"point","filled":true,"opacity":1,"size":225,"strokeWidth":0},
"encoding":{
 "x":{"field":"x1","type":"quantitative","title":"x1","scale":{"domain":[-1.1,1.1],"nice":false,"zero":false},
  "axis":{"values":[-1,-0.9,-0.8,-0.7,-0.6,-0.5,-0.4,-0.3,-0.2,-0.1,0,0.1,0.2,0.3,0.4,0.5,0.6,0.7,0.8,0.9,1],
   "labelExpr":"abs(round(datum.value*10)) % 2 == 0 ? format(datum.value, '.1f') : ''",
   "gridWidth":{"condition":{"test":"abs(round(datum.value*10)) % 2 == 0","value":1.1},"value":0.55},
   "tickOpacity":{"condition":{"test":"abs(round(datum.value*10)) % 2 == 0","value":1},"value":0},
   "labelAngle":-90,"labelAlign":"right","labelBaseline":"middle","titlePadding":6}},
 "y":{"field":"x2","type":"quantitative","title":"x2","scale":{"domain":[-1.1,1.1],"nice":false,"zero":false},
  "axis":{"values":[-1,-0.9,-0.8,-0.7,-0.6,-0.5,-0.4,-0.3,-0.2,-0.1,0,0.1,0.2,0.3,0.4,0.5,0.6,0.7,0.8,0.9,1],
   "labelExpr":"abs(round(datum.value*10)) % 2 == 0 ? format(datum.value, '.1f') : ''",
   "gridWidth":{"condition":{"test":"abs(round(datum.value*10)) % 2 == 0","value":1.1},"value":0.55},
   "tickOpacity":{"condition":{"test":"abs(round(datum.value*10)) % 2 == 0","value":1},"value":0},
   "titlePadding":4}},
 "color":{"field":"lab","type":"nominal","title":"Grid Point Label","scale":{"domain":["Inside","Outside"],"range":["#00FF00","#FF0000"]}},
 "shape":{"field":"lab","type":"nominal","title":"Grid Point Label","scale":{"domain":["Inside","Outside"],"range":["M0.733,0A0.733,0.733,0,1,1,-0.733,0A0.733,0.733,0,1,1,0.733,0Z","M0,-1.155L-1,0.577L1,0.577Z"]}}
}
},
{
"data":{"values":[
{"xmin":-1,"xmax":-0.8,"ymin":-0.4,"ymax":0.4},
{"xmin":-0.8,"xmax":-0.4,"ymin":-0.8,"ymax":0.8},
{"xmin":-0.4,"xmax":0,"ymin":-1,"ymax":1},
{"xmin":0,"xmax":0.4,"ymin":0.8,"ymax":1},
{"xmin":0,"xmax":0.4,"ymin":-1,"ymax":-0.8}
]},
"mark":{"type":"rect","fill":"#D3D3D3","fillOpacity":0.7,"stroke":"#222222","strokeWidth":1.3},
"encoding":{
 "x":{"field":"xmin","type":"quantitative","title":"x1","scale":{"domain":[-1.1,1.1],"nice":false,"zero":false}},
 "x2":{"field":"xmax"},
 "y":{"field":"ymin","type":"quantitative","title":"x2","scale":{"domain":[-1.1,1.1],"nice":false,"zero":false}},
 "y2":{"field":"ymax"}
}
}
]
}
